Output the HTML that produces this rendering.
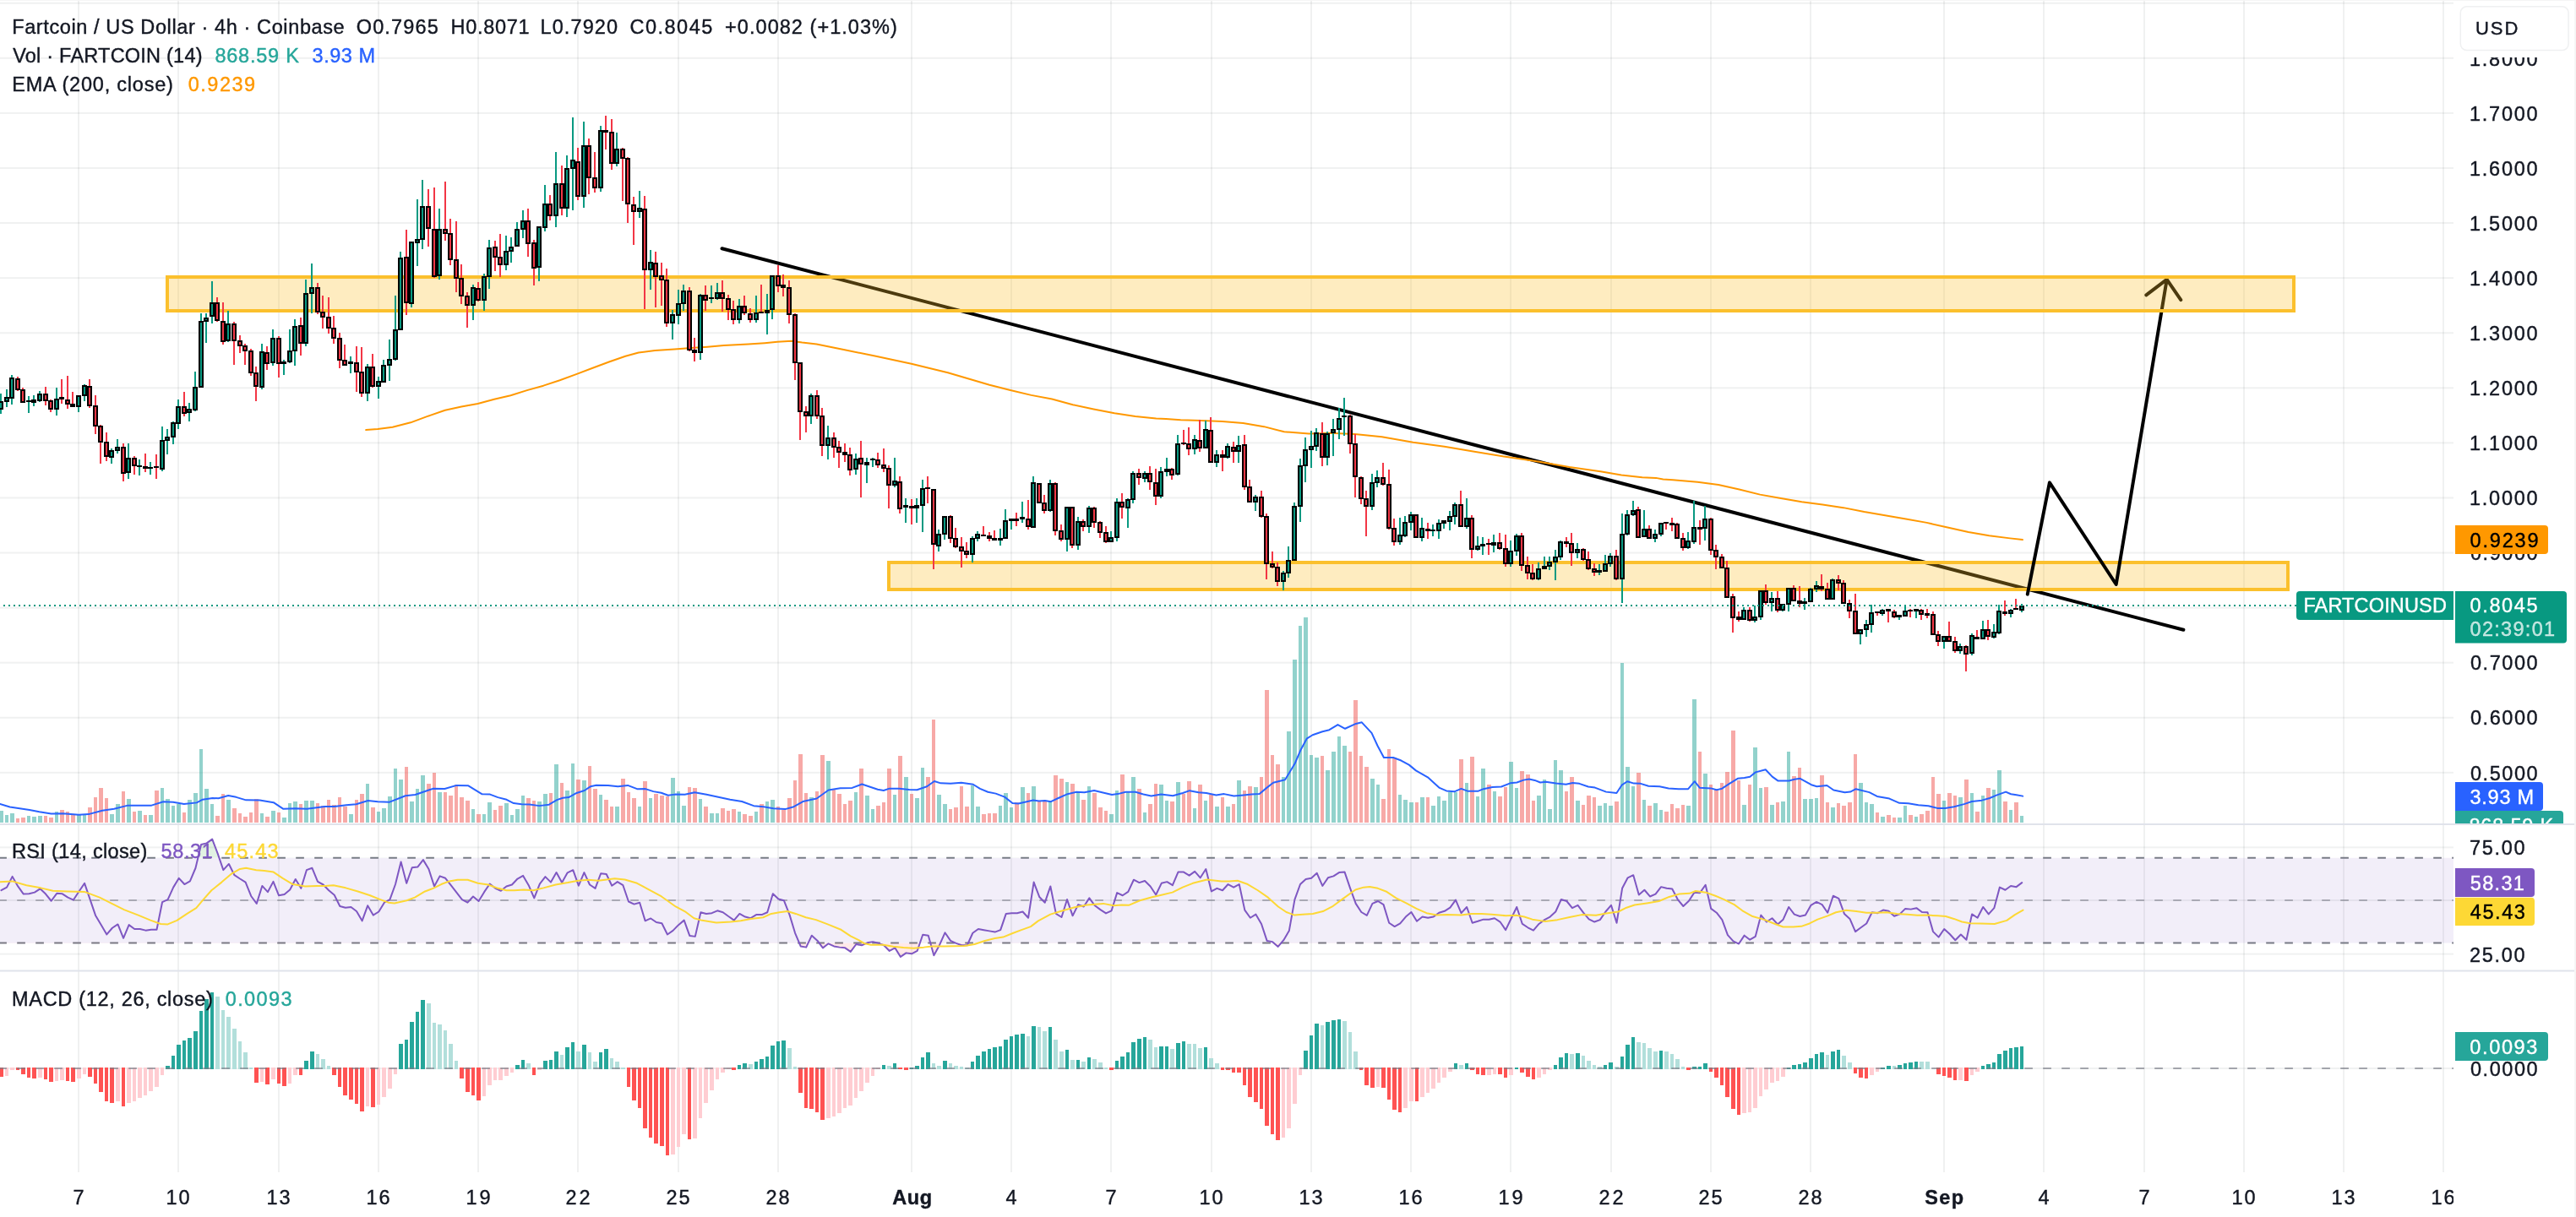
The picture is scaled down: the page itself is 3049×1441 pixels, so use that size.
<!DOCTYPE html><html><head><meta charset="utf-8"><title>FARTCOINUSD chart</title><style>html,body{margin:0;padding:0;background:#fff}body{width:3049px;height:1441px;overflow:hidden}svg{display:block;will-change:transform}</style></head><body><svg width="3049" height="1441" viewBox="0 0 3049 1441" font-family="'Liberation Sans', sans-serif">
<rect width="3049" height="1441" fill="#fff"/>
<defs><clipPath id="cm"><rect x="0" y="0" width="2904" height="975"/></clipPath><clipPath id="cr"><rect x="0" y="977" width="2904" height="171.5"/></clipPath><clipPath id="cd"><rect x="0" y="1150.5" width="2904" height="237.5"/></clipPath><clipPath id="ct"><rect x="0" y="1388" width="2904" height="53"/></clipPath><clipPath id="cv"><rect x="2904" y="0" width="145" height="975"/></clipPath></defs>
<g fill="rgba(30,45,50,0.065)">
<rect x="92" y="0" width="2" height="1388"/>
<rect x="210" y="0" width="2" height="1388"/>
<rect x="329" y="0" width="2" height="1388"/>
<rect x="447" y="0" width="2" height="1388"/>
<rect x="565" y="0" width="2" height="1388"/>
<rect x="683" y="0" width="2" height="1388"/>
<rect x="802" y="0" width="2" height="1388"/>
<rect x="920" y="0" width="2" height="1388"/>
<rect x="1078" y="0" width="2" height="1388"/>
<rect x="1196" y="0" width="2" height="1388"/>
<rect x="1314" y="0" width="2" height="1388"/>
<rect x="1433" y="0" width="2" height="1388"/>
<rect x="1551" y="0" width="2" height="1388"/>
<rect x="1669" y="0" width="2" height="1388"/>
<rect x="1787" y="0" width="2" height="1388"/>
<rect x="1906" y="0" width="2" height="1388"/>
<rect x="2024" y="0" width="2" height="1388"/>
<rect x="2142" y="0" width="2" height="1388"/>
<rect x="2300" y="0" width="2" height="1388"/>
<rect x="2418" y="0" width="2" height="1388"/>
<rect x="2537" y="0" width="2" height="1388"/>
<rect x="2655" y="0" width="2" height="1388"/>
<rect x="2773" y="0" width="2" height="1388"/>
<rect x="2891" y="0" width="2" height="1388"/>
<rect x="0" y="913.86" width="2904" height="2"/>
<rect x="0" y="848.78" width="2904" height="2"/>
<rect x="0" y="783.7" width="2904" height="2"/>
<rect x="0" y="718.62" width="2904" height="2"/>
<rect x="0" y="653.54" width="2904" height="2"/>
<rect x="0" y="588.46" width="2904" height="2"/>
<rect x="0" y="523.38" width="2904" height="2"/>
<rect x="0" y="458.3" width="2904" height="2"/>
<rect x="0" y="393.22" width="2904" height="2"/>
<rect x="0" y="328.14" width="2904" height="2"/>
<rect x="0" y="263.06" width="2904" height="2"/>
<rect x="0" y="197.98" width="2904" height="2"/>
<rect x="0" y="132.9" width="2904" height="2"/>
<rect x="0" y="67.82" width="2904" height="2"/>
<rect x="0" y="2.74" width="2904" height="2"/>
<rect x="0" y="1002.3" width="2904" height="2"/>
<rect x="0" y="1065" width="2904" height="2"/>
<rect x="0" y="1128.6" width="2904" height="2"/>
<rect x="0" y="1264" width="2904" height="2"/>
</g>
<g clip-path="url(#cm)">
<path d="M-1 974V960H4V974zM6 974V965H10V974zM12 974V963H17V974zM32 974V966H36V974zM38 974V967H43V974zM45 974V966H50V974zM65 974V961H69V974zM91 974V964H96V974zM98 974V964H102V974zM130 974V964H135V974zM137 974V952H142V974zM150 974V946H155V974zM163 974V960H168V974zM176 974V965H181V974zM190 974V933H194V974zM196 974V946H201V974zM203 974V954H207V974zM209 974V952H214V974zM222 974V947H227V974zM229 974V939H234V974zM236 974V887H240V974zM242 974V934H247V974zM249 974V952H253V974zM268 974V947H273V974zM308 974V963H312V974zM321 974V960H326V974zM334 974V968H339V974zM341 974V951H345V974zM347 974V949H352V974zM360 974V948H365V974zM367 974V948H372V974zM413 974V964H418V974zM433 974V928H437V974zM446 974V961H450V974zM452 974V957H457V974zM459 974V943H464V974zM466 974V910H470V974zM472 974V923H477V974zM485 974V949H490V974zM492 974V934H496V974zM498 974V918H503V974zM518 974V938H523V974zM558 974V958H562V974zM571 974V964H575V974zM577 974V950H582V974zM597 974V951H602V974zM604 974V965H608V974zM610 974V958H615V974zM617 974V942H621V974zM636 974V949H641V974zM643 974V940H648V974zM656 974V905H661V974zM669 974V936H674V974zM676 974V904H680V974zM689 974V924H694V974zM709 974V941H713V974zM728 974V955H733V974zM755 974V955H759V974zM768 974V945H772V974zM794 974V921H799V974zM801 974V937H805V974zM807 974V954H812V974zM827 974V946H831V974zM840 974V963H845V974zM847 974V963H851V974zM873 974V961H877V974zM893 974V961H897V974zM906 974V949H910V974zM912 974V947H917V974zM958 974V944H963V974zM978 974V901H983V974zM1011 974V938H1015V974zM1024 974V942H1029V974zM1031 974V958H1035V974zM1057 974V941H1061V974zM1070 974V920H1075V974zM1083 974V945H1088V974zM1090 974V909H1094V974zM1109 974V941H1114V974zM1116 974V952H1121V974zM1149 974V930H1153V974zM1155 974V955H1160V974zM1182 974V954H1186V974zM1188 974V939H1193V974zM1195 974V956H1199V974zM1208 974V932H1213V974zM1221 974V931H1226V974zM1241 974V949H1245V974zM1261 974V926H1265V974zM1274 974V938H1278V974zM1287 974V931H1291V974zM1313 974V964H1318V974zM1320 974V936H1324V974zM1333 974V938H1337V974zM1339 974V920H1344V974zM1353 974V962H1357V974zM1372 974V929H1377V974zM1379 974V948H1383V974zM1392 974V926H1397V974zM1412 974V957H1416V974zM1425 974V948H1429V974zM1438 974V955H1443V974zM1451 974V955H1456V974zM1464 974V924H1469V974zM1484 974V932H1489V974zM1517 974V920H1521V974zM1523 974V866H1528V974zM1530 974V781H1535V974zM1537 974V741H1541V974zM1543 974V731H1548V974zM1550 974V894H1554V974zM1556 974V897H1561V974zM1569 974V912H1574V974zM1576 974V890H1581V974zM1583 974V872H1587V974zM1589 974V883H1594V974zM1622 974V922H1627V974zM1629 974V929H1633V974zM1655 974V941H1659V974zM1661 974V947H1666V974zM1668 974V950H1673V974zM1681 974V944H1686V974zM1694 974V954H1699V974zM1701 974V943H1705V974zM1707 974V948H1712V974zM1714 974V938H1719V974zM1721 974V938H1725V974zM1734 974V927H1738V974zM1747 974V943H1751V974zM1753 974V910H1758V974zM1767 974V937H1771V974zM1786 974V902H1791V974zM1793 974V933H1797V974zM1819 974V942H1824V974zM1826 974V923H1830V974zM1832 974V958H1837V974zM1839 974V900H1843V974zM1845 974V912H1850V974zM1865 974V948H1870V974zM1891 974V954H1896V974zM1898 974V951H1902V974zM1904 974V954H1909V974zM1918 974V785H1922V974zM1924 974V908H1929V974zM1931 974V931H1935V974zM1944 974V947H1948V974zM1957 974V951H1962V974zM1964 974V959H1968V974zM1996 974V954H2001V974zM2003 974V828H2008V974zM2016 974V916H2021V974zM2062 974V953H2067V974zM2075 974V885H2080V974zM2082 974V933H2086V974zM2095 974V953H2100V974zM2108 974V949H2113V974zM2115 974V890H2119V974zM2134 974V946H2139V974zM2141 974V946H2146V974zM2148 974V945H2152V974zM2167 974V956H2172V974zM2200 974V927H2205V974zM2207 974V950H2211V974zM2213 974V952H2218V974zM2226 974V967H2231V974zM2246 974V968H2251V974zM2253 974V954H2257V974zM2266 974V967H2270V974zM2299 974V948H2303V974zM2318 974V944H2323V974zM2332 974V939H2336V974zM2345 974V942H2349V974zM2358 974V935H2362V974zM2364 974V912H2369V974zM2378 974V959H2382V974zM2391 974V966H2395V974z" fill="rgba(38,166,154,0.5)"/>
<path d="M19 974V969H23V974zM25 974V968H30V974zM52 974V966H56V974zM58 974V968H63V974zM71 974V959H76V974zM78 974V961H82V974zM84 974V964H89V974zM104 974V956H109V974zM111 974V944H115V974zM117 974V933H122V974zM124 974V945H128V974zM144 974V937H148V974zM157 974V961H161V974zM170 974V965H174V974zM183 974V936H188V974zM216 974V962H220V974zM255 974V966H260V974zM262 974V940H266V974zM275 974V957H280V974zM282 974V963H286V974zM288 974V967H293V974zM295 974V962H299V974zM301 974V946H306V974zM314 974V967H319V974zM328 974V962H332V974zM354 974V952H358V974zM374 974V951H378V974zM380 974V954H385V974zM387 974V947H391V974zM393 974V953H398V974zM400 974V944H404V974zM406 974V955H411V974zM420 974V947H424V974zM426 974V940H431V974zM439 974V956H444V974zM479 974V908H483V974zM505 974V928H510V974zM512 974V915H516V974zM525 974V938H529V974zM531 974V942H536V974zM538 974V929H542V974zM544 974V944H549V974zM551 974V948H556V974zM564 974V964H569V974zM584 974V959H588V974zM590 974V954H595V974zM623 974V945H628V974zM630 974V948H634V974zM650 974V939H654V974zM663 974V927H667V974zM682 974V923H687V974zM696 974V907H700V974zM702 974V934H707V974zM715 974V947H720V974zM722 974V955H726V974zM735 974V922H740V974zM742 974V938H746V974zM748 974V945H753V974zM761 974V925H766V974zM774 974V940H779V974zM781 974V942H786V974zM788 974V943H792V974zM814 974V932H818V974zM820 974V933H825V974zM833 974V955H838V974zM853 974V957H858V974zM860 974V960H864V974zM866 974V958H871V974zM879 974V964H884V974zM886 974V966H891V974zM899 974V952H904V974zM919 974V955H923V974zM925 974V959H930V974zM932 974V945H937V974zM939 974V924H943V974zM945 974V893H950V974zM952 974V939H956V974zM965 974V937H969V974zM971 974V894H976V974zM985 974V935H989V974zM991 974V940H996V974zM998 974V952H1002V974zM1004 974V948H1009V974zM1017 974V910H1022V974zM1037 974V954H1042V974zM1044 974V950H1048V974zM1050 974V910H1055V974zM1063 974V895H1068V974zM1077 974V940H1081V974zM1096 974V920H1101V974zM1103 974V852H1107V974zM1123 974V958H1127V974zM1129 974V956H1134V974zM1136 974V931H1140V974zM1142 974V955H1147V974zM1162 974V964H1167V974zM1169 974V963H1173V974zM1175 974V963H1180V974zM1201 974V950H1206V974zM1215 974V939H1219V974zM1228 974V949H1232V974zM1234 974V949H1239V974zM1247 974V918H1252V974zM1254 974V922H1259V974zM1267 974V928H1272V974zM1280 974V947H1285V974zM1293 974V939H1298V974zM1300 974V956H1305V974zM1307 974V960H1311V974zM1326 974V917H1331V974zM1346 974V934H1351V974zM1359 974V952H1364V974zM1366 974V928H1370V974zM1385 974V949H1390V974zM1399 974V940H1403V974zM1405 974V925H1410V974zM1418 974V929H1423V974zM1431 974V941H1436V974zM1445 974V944H1449V974zM1458 974V952H1462V974zM1471 974V936H1475V974zM1477 974V931H1482V974zM1491 974V920H1495V974zM1497 974V817H1502V974zM1504 974V894H1508V974zM1510 974V905H1515V974zM1563 974V895H1567V974zM1596 974V890H1600V974zM1602 974V829H1607V974zM1609 974V895H1613V974zM1615 974V908H1620V974zM1635 974V946H1640V974zM1642 974V887H1646V974zM1648 974V897H1653V974zM1675 974V950H1679V974zM1688 974V944H1692V974zM1727 974V899H1732V974zM1740 974V896H1745V974zM1760 974V929H1765V974zM1773 974V943H1778V974zM1780 974V932H1784V974zM1799 974V913H1804V974zM1806 974V917H1811V974zM1813 974V948H1817V974zM1852 974V937H1856V974zM1858 974V920H1863V974zM1872 974V953H1876V974zM1878 974V942H1883V974zM1885 974V944H1889V974zM1911 974V949H1916V974zM1937 974V915H1942V974zM1950 974V954H1955V974zM1970 974V961H1975V974zM1977 974V952H1981V974zM1983 974V957H1988V974zM1990 974V953H1994V974zM2010 974V890H2014V974zM2023 974V929H2027V974zM2029 974V935H2034V974zM2036 974V927H2040V974zM2042 974V914H2047V974zM2049 974V865H2054V974zM2056 974V924H2060V974zM2069 974V929H2073V974zM2088 974V932H2093V974zM2102 974V950H2106V974zM2121 974V919H2126V974zM2128 974V909H2132V974zM2154 974V918H2159V974zM2161 974V950H2165V974zM2174 974V951H2178V974zM2180 974V954H2185V974zM2187 974V950H2192V974zM2194 974V893H2198V974zM2220 974V962H2224V974zM2233 974V965H2238V974zM2240 974V968H2244V974zM2259 974V965H2264V974zM2272 974V964H2277V974zM2279 974V960H2284V974zM2286 974V920H2290V974zM2292 974V940H2297V974zM2305 974V939H2310V974zM2312 974V942H2316V974zM2325 974V923H2330V974zM2338 974V961H2343V974zM2351 974V933H2356V974zM2371 974V949H2376V974zM2384 974V950H2389V974z" fill="rgba(239,83,80,0.5)"/>
<path d="M0 952 L11.65 955.5 L23.29 957.36 L34.94 958.99 L46.58 961.32 L60.56 963.42 L74.53 963.18 L93.17 964.81 L104.81 964.11 L121.12 959.69 L135.09 957.83 L151.4 953.63 L163.04 953.63 L179.35 953.63 L193.32 949.21 L204.97 949.67 L217.78 952 L232.92 950.37 L239.91 946.65 L251.55 945.02 L258.54 945.25 L270.19 941.99 L279.5 943.85 L291.15 947.34 L307.45 947.58 L323.76 950.14 L335.4 957.83 L349.38 957.13 L363.35 957.83 L384.32 955.03 L395.96 955.03 L409.94 953.17 L421.58 952.24 L435.56 948.04 L447.2 949.21 L461.18 949.67 L479.81 942.22 L491.46 941.06 L512.42 933.84 L526.4 934.07 L540.37 929.88 L554.35 930.34 L570.65 940.36 L580 940.62 L589.32 944.11 L598.63 946.44 L607.95 951.1 L617.27 952.27 L626.58 952.5 L638.23 954.13 L649.88 952.73 L659.19 947.14 L666.18 944.81 L673.17 944.11 L682.48 938.99 L691.8 935.96 L698.79 931.3 L705.78 929.67 L719.75 929.91 L731.4 931.3 L743.04 929.91 L754.69 934.33 L764.01 934.1 L773.32 937.13 L782.64 938.76 L790.79 941.79 L798.94 940.62 L810.59 940.85 L822.24 938.29 L836.21 940.85 L850.19 943.65 L864.16 946.68 L878.14 949.01 L892.11 954.13 L903.76 955.3 L915.4 957.16 L929.38 958.09 L938.7 955.53 L950.34 949.01 L966.65 945.51 L980.62 935.5 L994.6 933.17 L1008.57 932.93 L1020.22 928.51 L1038.85 934.8 L1045.84 935.96 L1052.83 933.63 L1064.47 933.87 L1076.12 935.03 L1085.43 935.26 L1097.08 931.3 L1105.93 925.02 L1113.39 927.34 L1125.03 927.81 L1137.84 926.65 L1151.82 928.74 L1160 933.82 L1169.32 937.78 L1178.63 939.64 L1189.11 943.6 L1198.43 951.06 L1205.42 951.52 L1222.89 947.56 L1229.88 948.49 L1236.86 948.03 L1243.85 949.19 L1253.17 944.77 L1262.48 940.57 L1274.13 937.78 L1283.45 938.25 L1295.09 935.92 L1304.41 938.25 L1316.06 941.04 L1323.04 940.11 L1332.36 937.78 L1344.01 937.78 L1353.32 940.57 L1362.64 942.44 L1374.29 940.57 L1388.26 942.2 L1399.91 938.94 L1408.06 936.15 L1418.54 938.25 L1427.86 938.94 L1439.5 941.51 L1448.82 940.11 L1460.47 942.44 L1472.11 941.51 L1481.43 940.57 L1490.75 940.11 L1498.9 933.12 L1507.05 926.83 L1514.04 924.97 L1521.02 923.34 L1532.67 904.01 L1539.66 887.7 L1546.65 874.66 L1553.63 870.23 L1565.28 866.27 L1573.43 864.18 L1583.45 858.12 L1592.07 862.78 L1604.88 856.96 L1611.86 855.33 L1623.51 867.9 L1630.5 883.04 L1637.95 897.02 L1649.13 897.02 L1658.45 900.51 L1667.76 905.64 L1675.92 912.39 L1689.89 920.31 L1703.87 932.89 L1712.02 936.38 L1721.34 937.31 L1729.49 933.82 L1737.64 936.85 L1749.24 936.83 L1755.84 934.19 L1766.4 932.08 L1776.96 931.55 L1787.52 927.33 L1795.43 926.54 L1803.35 923.63 L1809.95 922.58 L1816.55 923.9 L1823.15 926.54 L1829.75 925.75 L1841.63 927.59 L1853.51 928.65 L1861.43 927.07 L1869.35 927.86 L1879.91 931.55 L1887.83 932.61 L1901.02 937.62 L1913.43 938.94 L1919.5 929.7 L1926.1 925.22 L1934.02 927.59 L1941.94 927.86 L1951.18 930.76 L1964.38 931.29 L1974.94 933.4 L1986.82 934.19 L1998.17 934.19 L2005.82 925.22 L2011.89 932.87 L2025.09 933.4 L2031.69 935.25 L2038.29 933.66 L2046.21 928.39 L2056.77 921.79 L2064.69 920.99 L2071.29 919.67 L2077.89 914.39 L2089.77 911.23 L2097.69 919.67 L2104.29 924.43 L2117.48 924.43 L2124.08 922.84 L2130.68 921.79 L2143.88 929.18 L2150.48 931.29 L2162.36 929.97 L2170.28 935.51 L2183.48 938.15 L2190.08 937.62 L2196.68 934.19 L2212.52 938.15 L2221.75 942.9 L2236.27 945.54 L2248.15 950.82 L2258.71 951.35 L2270.59 953.2 L2282.47 954.25 L2293.03 956.89 L2302.27 956.89 L2312.83 955.31 L2324.7 952.14 L2333.94 948.98 L2345.82 947.66 L2355.06 945.02 L2362.98 941.58 L2374.07 937.62 L2380.14 940.26 L2386.74 941.32 L2394.13 942.64" fill="none" stroke="#2962ff" stroke-width="2" stroke-linejoin="round" stroke-linecap="round" />
<path d="M854.5 294.3L2584.4 745.8" stroke="#000" stroke-width="4" stroke-linecap="round" fill="none"/>
<rect x="1052" y="666" width="1656" height="32" fill="rgba(251,192,45,0.3)" stroke="#fbc02d" stroke-width="4"/>
<path d="M2399.8 703.6L2425.9 571.4L2504.7 692L2564.7 330.8M2540.3 349.3L2564.7 330.8L2581.3 355.2" stroke="#000" stroke-width="4" stroke-linecap="round" stroke-linejoin="round" fill="none"/>
<rect x="198" y="328" width="2517" height="40" fill="rgba(251,192,45,0.3)" stroke="#fbc02d" stroke-width="4"/>
<path d="M433.2 509.08 L447.17 508.11 L464.64 505.78 L485.99 500.34 L505.4 493.16 L526.75 485.78 L546.16 481.51 L565.57 478.02 L584.98 472.78 L604.39 468.32 L623.8 462.1 L643.21 456.67 L662.62 450.26 L682.03 443.08 L701.44 435.71 L720.85 428.52 L740.26 421.73 L755.79 417.46 L775.2 414.94 L798.49 413.39 L817.9 412.03 L837.31 410.67 L856.72 409.11 L885.84 407.56 L905.25 406.2 L920 404.84 L936.98 403.79 L949.31 405.52 L966.56 407.49 L998.61 413.9 L1035.59 421.54 L1078.74 430.66 L1121.88 441.26 L1171.19 455.81 L1195.84 461.97 L1220.49 467.89 L1245.15 472.57 L1269.8 479.23 L1294.45 484.41 L1319.11 489.34 L1343.76 493.04 L1368.41 495.5 L1380 495.99 L1397.47 497.26 L1422.13 498 L1446.78 498.98 L1471.43 500.96 L1496.09 505.15 L1520 511.31 L1549.31 513.47 L1573.96 512.73 L1603.54 513.96 L1635.59 517.16 L1672.57 523.82 L1709.55 528.75 L1746.53 534.92 L1783.51 541.08 L1820.49 546.5 L1857.47 552.91 L1894.45 558.34 L1919.11 562.53 L1943.76 565.24 L1960 565.89 L1968.41 567.46 L1980 568.2 L2009.31 570.82 L2033.96 574.02 L2058.61 579.45 L2083.27 585.61 L2107.92 590.05 L2132.57 594.24 L2157.23 597.44 L2181.88 601.14 L2206.53 606.07 L2231.19 610.26 L2255.84 614.45 L2280.49 618.89 L2305.15 624.56 L2329.8 629.98 L2354.45 634.18 L2379.11 637.38 L2393.9 639.11" fill="none" stroke="#ff9800" stroke-width="2" stroke-linejoin="round" stroke-linecap="round" />
<path d="M0 466V490h2V466zM7 461V482h2V461zM13 444V479h2V444zM33 469V489h2V469zM39 468V481h2V468zM46 463V476h2V463zM66 459V492h2V459zM92 468V488h2V468zM99 455V475h2V455zM131 531V549h2V531zM138 520V537h2V520zM151 525V567h2V525zM164 544V563h2V544zM177 547V562h2V547zM191 505V558h2V505zM197 508V538h2V508zM204 499V526h2V499zM210 473V508h2V473zM223 477V499h2V477zM230 440V487h2V440zM237 371V459h2V371zM243 371V406h2V371zM250 333V383h2V333zM269 368V405h2V368zM309 407V461h2V407zM322 390V433h2V390zM335 426V444h2V426zM342 390V430h2V390zM348 378V433h2V378zM361 331V410h2V331zM368 312V371h2V312zM414 422V442h2V422zM434 431V475h2V431zM447 446V472h2V446zM453 426V453h2V426zM460 402V451h2V402zM467 350V427h2V350zM473 298V391h2V298zM486 286V364h2V286zM493 236V315h2V236zM499 213V295h2V213zM519 247V331h2V247zM559 337V379h2V337zM572 324V368h2V324zM578 284V342h2V284zM598 279V320h2V279zM604 281V311h2V281zM611 263V292h2V263zM618 249V282h2V249zM637 268V333h2V268zM644 219V274h2V219zM657 180V269h2V180zM670 184V257h2V184zM677 139V249h2V139zM690 144V246h2V144zM710 149V227h2V149zM729 157V197h2V157zM756 226V258h2V226zM769 296V343h2V296zM795 367V402h2V367zM802 343V384h2V343zM808 337V368h2V337zM828 348V426h2V348zM841 338V359h2V338zM848 335V355h2V335zM874 354V383h2V354zM894 350V382h2V350zM907 348V396h2V348zM913 326V378h2V326zM959 466V502h2V466zM979 504V544h2V504zM1012 537V562h2V537zM1025 542V572h2V542zM1032 542V553h2V542zM1058 542V577h2V542zM1071 590V619h2V590zM1084 590V619h2V590zM1091 568V630h2V568zM1110 627V653h2V627zM1117 611V639h2V611zM1150 635V666h2V635zM1156 629V641h2V629zM1183 626V646h2V626zM1189 603V638h2V603zM1196 614V627h2V614zM1209 594V619h2V594zM1222 564V625h2V564zM1242 568V606h2V568zM1262 600V653h2V600zM1275 612V651h2V612zM1288 599V631h2V599zM1314 629V642h2V629zM1321 590V641h2V590zM1334 590V625h2V590zM1340 558V596h2V558zM1354 558V571h2V558zM1373 553V590h2V553zM1380 542V564h2V542zM1393 515V563h2V515zM1413 515V538h2V515zM1426 498V531h2V498zM1439 533V553h2V533zM1452 525V543h2V525zM1465 516V548h2V516zM1485 586V605h2V586zM1518 676V699h2V676zM1524 647V684h2V647zM1531 595V664h2V595zM1538 543V618h2V543zM1544 518V571h2V518zM1551 510V554h2V510zM1557 507V534h2V507zM1570 511V551h2V511zM1577 496V540h2V496zM1584 483V520h2V483zM1590 471V516h2V471zM1623 561V604h2V561zM1629 557V577h2V557zM1656 613V645h2V613zM1662 611V636h2V611zM1669 606V628h2V606zM1682 613V641h2V613zM1695 621V635h2V621zM1702 615V638h2V615zM1708 616V626h2V616zM1715 605V628h2V605zM1721 595V621h2V595zM1735 590V626h2V590zM1748 635V652h2V635zM1754 636V657h2V636zM1767 633V654h2V633zM1787 640V671h2V640zM1794 632V658h2V632zM1820 666V687h2V666zM1827 659V674h2V659zM1833 659V675h2V659zM1840 651V687h2V651zM1846 640V663h2V640zM1866 643V661h2V643zM1892 668V681h2V668zM1899 657V677h2V657zM1905 655V671h2V655zM1919 608V714h2V608zM1925 604V634h2V604zM1932 593V611h2V593zM1945 604V636h2V604zM1958 627V642h2V627zM1965 619V635h2V619zM1997 630V650h2V630zM2004 593V644h2V593zM2017 599V640h2V599zM2063 719V734h2V719zM2076 717V737h2V717zM2083 699V734h2V699zM2096 701V724h2V701zM2109 715V724h2V715zM2116 696V724h2V696zM2135 708V722h2V708zM2142 696V713h2V696zM2149 688V701h2V688zM2168 685V710h2V685zM2201 745V763h2V745zM2208 734V754h2V734zM2214 716V749h2V716zM2227 721V729h2V721zM2247 728V734h2V728zM2254 716V730h2V716zM2267 721V732h2V721zM2300 753V768h2V753zM2319 762V774h2V762zM2333 750V776h2V750zM2346 735V757h2V735zM2359 739V756h2V739zM2365 716V751h2V716zM2379 721V731h2V721zM2392 715V725h2V715z" fill="#089981"/>
<path d="M20 446V463h2V446zM26 459V477h2V459zM53 458V480h2V458zM59 473V488h2V473zM72 449V478h2V449zM79 445V484h2V445zM85 464V482h2V464zM105 449V483h2V449zM112 468V514h2V468zM118 503V549h2V503zM125 512V546h2V512zM145 525V570h2V525zM158 540V562h2V540zM171 537V559h2V537zM184 538V567h2V538zM217 464V493h2V464zM256 352V381h2V352zM263 358V408h2V358zM276 381V432h2V381zM283 397V418h2V397zM289 407V432h2V407zM296 413V445h2V413zM302 434V475h2V434zM315 410V438h2V410zM329 398V447h2V398zM355 376V421h2V376zM375 335V372h2V335zM381 350V389h2V350zM388 352V395h2V352zM394 374V407h2V374zM401 394V436h2V394zM407 408V433h2V408zM421 410V464h2V410zM427 411V470h2V411zM440 419V459h2V419zM480 272V373h2V272zM506 224V292h2V224zM513 222V329h2V222zM526 215V285h2V215zM532 259V314h2V259zM539 262V346h2V262zM545 313V360h2V313zM552 346V388h2V346zM565 334V357h2V334zM585 285V321h2V285zM591 277V328h2V277zM624 247V304h2V247zM631 284V338h2V284zM650 231V261h2V231zM664 196V255h2V196zM683 175V237h2V175zM696 164V230h2V164zM703 180V228h2V180zM716 137V177h2V137zM723 141V201h2V141zM736 175V238h2V175zM742 186V264h2V186zM749 233V290h2V233zM762 232V366h2V232zM775 298V364h2V298zM782 311V362h2V311zM788 318V387h2V318zM815 340V416h2V340zM821 400V428h2V400zM834 338V368h2V338zM854 332V369h2V332zM861 349V379h2V349zM867 356V384h2V356zM880 350V373h2V350zM887 365V382h2V365zM900 337V371h2V337zM920 314V346h2V314zM926 325V351h2V325zM933 332V383h2V332zM940 371V450h2V371zM946 429V521h2V429zM953 481V512h2V481zM966 462V496h2V462zM972 483V540h2V483zM986 512V542h2V512zM992 522V554h2V522zM999 525V547h2V525zM1005 530V563h2V530zM1018 522V589h2V522zM1038 536V554h2V536zM1045 531V559h2V531zM1051 551V602h2V551zM1064 564V608h2V564zM1078 591V621h2V591zM1097 564V596h2V564zM1104 579V674h2V579zM1124 610V643h2V610zM1130 625V649h2V625zM1137 636V672h2V636zM1143 642V661h2V642zM1163 623V635h2V623zM1170 630V641h2V630zM1176 628V640h2V628zM1202 607V623h2V607zM1216 592V627h2V592zM1229 572V596h2V572zM1235 586V608h2V586zM1248 571V634h2V571zM1255 621V641h2V621zM1268 600V649h2V600zM1281 615V629h2V615zM1294 600V625h2V600zM1301 617V637h2V617zM1308 623V643h2V623zM1327 584V614h2V584zM1347 555V574h2V555zM1360 552V580h2V552zM1367 555V598h2V555zM1386 554V568h2V554zM1400 509V527h2V509zM1406 506V539h2V506zM1419 497V535h2V497zM1432 494V548h2V494zM1446 533V558h2V533zM1459 523V548h2V523zM1472 515V580h2V515zM1478 568V595h2V568zM1492 581V613h2V581zM1498 608V686h2V608zM1505 653V673h2V653zM1511 666V694h2V666zM1564 500V552h2V500zM1597 491V537h2V491zM1603 514V589h2V514zM1610 564V597h2V564zM1616 581V635h2V581zM1636 548V575h2V548zM1643 556V627h2V556zM1649 614V646h2V614zM1675 609V637h2V609zM1689 619V638h2V619zM1728 581V624h2V581zM1741 610V661h2V610zM1761 638V657h2V638zM1774 631V651h2V631zM1781 633V671h2V633zM1800 631V676h2V631zM1807 659V686h2V659zM1813 668V687h2V668zM1853 636V648h2V636zM1859 631V670h2V631zM1873 649V664h2V649zM1879 653V675h2V653zM1886 667V682h2V667zM1912 651V687h2V651zM1938 600V637h2V600zM1951 622V638h2V622zM1971 618V627h2V618zM1978 613V629h2V613zM1984 619V638h2V619zM1991 631V652h2V631zM2011 616V645h2V616zM2024 613V657h2V613zM2030 645V674h2V645zM2037 656V673h2V656zM2043 664V708h2V664zM2050 703V749h2V703zM2057 724V736h2V724zM2070 719V736h2V719zM2089 692V716h2V692zM2103 700V725h2V700zM2122 693V712h2V693zM2129 694V719h2V694zM2155 680V700h2V680zM2162 690V710h2V690zM2175 681V699h2V681zM2181 687V715h2V687zM2188 710V732h2V710zM2195 703V751h2V703zM2221 724V729h2V724zM2234 721V737h2V721zM2241 722V732h2V722zM2260 721V731h2V721zM2273 721V734h2V721zM2280 721V732h2V721zM2287 724V752h2V724zM2293 747V765h2V747zM2306 736V760h2V736zM2313 754V773h2V754zM2326 764V795h2V764zM2339 746V757h2V746zM2352 734V758h2V734zM2372 711V729h2V711zM2385 709V722h2V709z" fill="#f23645"/>
<path d="M-2 475V485h6V475zM5 470V476h6V470zM11 447V472h6V447zM18 448V462h6V448zM24 461V477h6V461zM31 474V476h6V474zM37 473V477h6V473zM44 466V475h6V466zM51 466V475h6V466zM57 474V485h6V474zM64 472V485h6V472zM70 470V473h6V470zM77 473V479h6V473zM83 478V482h6V478zM90 468V482h6V468zM97 456V469h6V456zM103 457V481h6V457zM110 480V505h6V480zM116 504V524h6V504zM123 523V541h6V523zM129 533V542h6V533zM136 529V534h6V529zM143 529V561h6V529zM149 542V560h6V542zM156 542V552h6V542zM162 551V553h6V551zM169 552V555h6V552zM175 553V555h6V553zM182 552V554h6V552zM189 521V556h6V521zM195 517V522h6V517zM202 500V518h6V500zM208 481V502h6V481zM215 481V490h6V481zM221 484V489h6V484zM228 458V486h6V458zM235 380V459h6V380zM241 376V381h6V376zM248 358V375h6V358zM254 358V380h6V358zM261 380V405h6V380zM267 383V404h6V383zM274 383V404h6V383zM281 403V410h6V403zM287 409V416h6V409zM294 415V442h6V415zM300 441V458h6V441zM307 416V459h6V416zM313 417V431h6V417zM320 400V430h6V400zM327 400V431h6V400zM333 428V431h6V428zM340 415V429h6V415zM346 386V416h6V386zM353 385V407h6V385zM359 347V407h6V347zM366 340V348h6V340zM373 340V370h6V340zM379 369V376h6V369zM386 375V389h6V375zM392 388V401h6V388zM399 400V427h6V400zM405 426V433h6V426zM412 428V431h6V428zM419 429V441h6V429zM425 440V466h6V440zM432 434V466h6V434zM438 434V458h6V434zM445 451V458h6V451zM451 432V453h6V432zM458 425V433h6V425zM465 390V426h6V390zM471 305V391h6V305zM478 304V359h6V304zM484 286V360h6V286zM491 283V288h6V283zM497 244V284h6V244zM504 244V271h6V244zM511 271V328h6V271zM517 271V327h6V271zM524 271V277h6V271zM530 276V308h6V276zM537 307V330h6V307zM543 329V351h6V329zM550 350V362h6V350zM557 340V362h6V340zM563 341V356h6V341zM570 327V356h6V327zM576 293V328h6V293zM583 292V305h6V292zM589 304V314h6V304zM596 297V314h6V297zM602 292V298h6V292zM609 271V292h6V271zM616 261V272h6V261zM622 261V289h6V261zM629 287V318h6V287zM635 268V317h6V268zM642 241V270h6V241zM648 241V256h6V241zM655 217V256h6V217zM662 217V247h6V217zM668 199V247h6V199zM675 189V200h6V189zM681 191V233h6V191zM688 172V233h6V172zM694 172V211h6V172zM701 210V223h6V210zM708 154V223h6V154zM714 154V157h6V154zM721 156V194h6V156zM727 176V194h6V176zM734 176V188h6V176zM740 187V242h6V187zM747 242V251h6V242zM754 246V251h6V246zM760 247V320h6V247zM767 310V320h6V310zM773 311V328h6V311zM780 326V332h6V326zM786 331V383h6V331zM793 372V383h6V372zM800 359V374h6V359zM806 344V360h6V344zM813 344V415h6V344zM819 414V418h6V414zM826 349V418h6V349zM832 349V356h6V349zM839 352V354h6V352zM846 346V354h6V346zM852 346V354h6V346zM859 353V367h6V353zM865 366V379h6V366zM872 362V379h6V362zM878 362V371h6V362zM885 371V379h6V371zM892 370V379h6V370zM898 369V371h6V369zM905 367V371h6V367zM911 326V367h6V326zM918 326V339h6V326zM924 337V341h6V337zM931 340V373h6V340zM938 372V430h6V372zM944 429V488h6V429zM951 487V493h6V487zM957 468V493h6V468zM964 468V493h6V468zM970 492V528h6V492zM977 518V528h6V518zM984 518V530h6V518zM990 529V536h6V529zM997 535V539h6V535zM1003 538V557h6V538zM1010 543V556h6V543zM1016 542V550h6V542zM1023 547V551h6V547zM1030 543V545h6V543zM1036 544V551h6V544zM1043 550V555h6V550zM1049 554V575h6V554zM1056 569V575h6V569zM1062 570V603h6V570zM1069 598V601h6V598zM1076 599V602h6V599zM1082 598V602h6V598zM1089 578V599h6V578zM1095 577V579h6V577zM1102 579V645h6V579zM1108 632V647h6V632zM1115 611V633h6V611zM1122 611V638h6V611zM1128 637V648h6V637zM1135 647V653h6V647zM1141 652V657h6V652zM1148 637V657h6V637zM1154 632V638h6V632zM1161 633V635h6V633zM1168 634V638h6V634zM1174 637V640h6V637zM1181 637V640h6V637zM1187 616V638h6V616zM1194 614V617h6V614zM1200 614V617h6V614zM1207 612V615h6V612zM1214 614V624h6V614zM1220 571V625h6V571zM1227 572V596h6V572zM1233 595V605h6V595zM1240 572V605h6V572zM1246 572V629h6V572zM1253 628V639h6V628zM1260 600V639h6V600zM1266 600V646h6V600zM1273 617V646h6V617zM1279 617V624h6V617zM1286 601V624h6V601zM1292 601V619h6V601zM1299 618V631h6V618zM1306 630V642h6V630zM1312 636V642h6V636zM1319 594V637h6V594zM1325 594V601h6V594zM1332 591V602h6V591zM1338 560V592h6V560zM1345 560V566h6V560zM1352 560V567h6V560zM1358 560V571h6V560zM1365 571V588h6V571zM1371 558V588h6V558zM1378 555V559h6V555zM1384 555V563h6V555zM1391 525V562h6V525zM1398 524V526h6V524zM1404 525V532h6V525zM1411 520V532h6V520zM1417 521V531h6V521zM1424 508V531h6V508zM1430 509V548h6V509zM1437 538V548h6V538zM1444 538V542h6V538zM1450 528V542h6V528zM1457 529V535h6V529zM1463 527V535h6V527zM1470 526V577h6V526zM1476 576V595h6V576zM1483 588V595h6V588zM1490 588V612h6V588zM1496 611V668h6V611zM1503 667V672h6V667zM1509 671V689h6V671zM1516 678V689h6V678zM1522 663V679h6V663zM1529 599V664h6V599zM1536 551V600h6V551zM1542 532V552h6V532zM1549 528V533h6V528zM1555 512V529h6V512zM1562 513V542h6V513zM1568 513V542h6V513zM1575 508V513h6V508zM1582 495V509h6V495zM1588 492V494h6V492zM1595 492V526h6V492zM1601 525V565h6V525zM1608 565V591h6V565zM1614 590V600h6V590zM1621 571V600h6V571zM1627 565V572h6V565zM1634 565V574h6V565zM1641 573V626h6V573zM1647 625V642h6V625zM1654 633V642h6V633zM1660 618V635h6V618zM1667 609V619h6V609zM1673 609V637h6V609zM1680 625V637h6V625zM1687 626V629h6V626zM1693 627V629h6V627zM1700 619V629h6V619zM1706 616V620h6V616zM1713 611V618h6V611zM1719 597V612h6V597zM1726 597V624h6V597zM1733 613V624h6V613zM1739 613V651h6V613zM1746 646V651h6V646zM1752 644V647h6V644zM1759 643V645h6V643zM1765 642V646h6V642zM1772 642V650h6V642zM1779 649V668h6V649zM1785 652V668h6V652zM1792 634V653h6V634zM1798 634V670h6V634zM1805 669V679h6V669zM1811 678V686h6V678zM1818 673V686h6V673zM1825 670V674h6V670zM1831 665V671h6V665zM1838 659V666h6V659zM1844 641V660h6V641zM1851 641V644h6V641zM1857 643V655h6V643zM1864 650V655h6V650zM1871 650V663h6V650zM1877 662V674h6V662zM1884 673V678h6V673zM1890 675V678h6V675zM1897 667V677h6V667zM1903 658V668h6V658zM1910 658V686h6V658zM1917 632V686h6V632zM1923 609V633h6V609zM1930 604V610h6V604zM1936 603V637h6V603zM1943 626V636h6V626zM1949 626V638h6V626zM1956 632V638h6V632zM1963 619V633h6V619zM1969 618V620h6V618zM1976 619V622h6V619zM1982 620V638h6V620zM1989 637V649h6V637zM1995 640V649h6V640zM2002 624V642h6V624zM2009 624V627h6V624zM2015 614V626h6V614zM2022 614V652h6V614zM2028 651V660h6V651zM2035 659V673h6V659zM2041 672V708h6V672zM2048 706V732h6V706zM2055 730V734h6V730zM2061 722V734h6V722zM2068 722V735h6V722zM2074 730V735h6V730zM2081 699V731h6V699zM2087 699V714h6V699zM2094 708V714h6V708zM2101 708V723h6V708zM2107 715V723h6V715zM2114 696V716h6V696zM2120 696V712h6V696zM2127 711V715h6V711zM2133 712V715h6V712zM2140 697V713h6V697zM2147 693V698h6V693zM2153 694V698h6V694zM2160 697V710h6V697zM2166 686V710h6V686zM2173 686V691h6V686zM2179 690V715h6V690zM2186 714V724h6V714zM2193 723V751h6V723zM2199 745V751h6V745zM2206 739V746h6V739zM2212 725V740h6V725zM2219 724V726h6V724zM2225 722V727h6V722zM2232 721V724h6V721zM2239 724V731h6V724zM2245 728V731h6V728zM2252 723V730h6V723zM2258 722V724h6V722zM2265 721V724h6V721zM2271 722V728h6V722zM2278 726V729h6V726zM2285 727V752h6V727zM2291 751V760h6V751zM2298 753V760h6V753zM2304 753V760h6V753zM2311 759V771h6V759zM2317 765V771h6V765zM2324 765V775h6V765zM2331 752V774h6V752zM2337 754V757h6V754zM2344 745V757h6V745zM2350 745V754h6V745zM2357 748V755h6V748zM2363 723V750h6V723zM2370 724V727h6V724zM2377 722V727h6V722zM2383 720V722h6V720zM2390 717V723h6V717z" fill="#000"/>
<path d="M0 477V483h2V477zM7 472V474h2V472zM13 449V470h2V449zM46 468V473h2V468zM66 474V483h2V474zM92 470V480h2V470zM99 458V467h2V458zM131 535V540h2V535zM138 531V532h2V531zM151 544V558h2V544zM191 523V554h2V523zM197 519V520h2V519zM204 502V516h2V502zM210 483V500h2V483zM223 486V487h2V486zM230 460V484h2V460zM237 382V457h2V382zM243 378V379h2V378zM250 360V373h2V360zM269 385V402h2V385zM309 418V457h2V418zM322 402V428h2V402zM342 417V427h2V417zM348 388V414h2V388zM361 349V405h2V349zM368 342V346h2V342zM434 436V464h2V436zM447 453V456h2V453zM453 434V451h2V434zM460 427V431h2V427zM467 392V424h2V392zM473 307V389h2V307zM486 288V358h2V288zM493 285V286h2V285zM499 246V282h2V246zM519 273V325h2V273zM559 342V360h2V342zM572 329V354h2V329zM578 295V326h2V295zM598 299V312h2V299zM604 294V296h2V294zM611 273V290h2V273zM618 263V270h2V263zM637 270V315h2V270zM644 243V268h2V243zM657 219V254h2V219zM670 201V245h2V201zM677 191V198h2V191zM690 174V231h2V174zM710 156V221h2V156zM729 178V192h2V178zM756 248V249h2V248zM769 312V318h2V312zM795 374V381h2V374zM802 361V372h2V361zM808 346V358h2V346zM828 351V416h2V351zM848 348V352h2V348zM874 364V377h2V364zM894 372V377h2V372zM913 328V365h2V328zM959 470V491h2V470zM979 520V526h2V520zM1012 545V554h2V545zM1058 571V573h2V571zM1091 580V597h2V580zM1110 634V645h2V634zM1117 613V631h2V613zM1150 639V655h2V639zM1156 634V636h2V634zM1189 618V636h2V618zM1222 573V623h2V573zM1242 574V603h2V574zM1262 602V637h2V602zM1275 619V644h2V619zM1288 603V622h2V603zM1314 638V640h2V638zM1321 596V635h2V596zM1334 593V600h2V593zM1340 562V590h2V562zM1354 562V565h2V562zM1373 560V586h2V560zM1393 527V560h2V527zM1413 522V530h2V522zM1426 510V529h2V510zM1439 540V546h2V540zM1452 530V540h2V530zM1465 529V533h2V529zM1485 590V593h2V590zM1518 680V687h2V680zM1524 665V677h2V665zM1531 601V662h2V601zM1538 553V598h2V553zM1544 534V550h2V534zM1551 530V531h2V530zM1557 514V527h2V514zM1570 515V540h2V515zM1577 510V511h2V510zM1584 497V507h2V497zM1623 573V598h2V573zM1629 567V570h2V567zM1656 635V640h2V635zM1662 620V633h2V620zM1669 611V617h2V611zM1682 627V635h2V627zM1702 621V627h2V621zM1715 613V616h2V613zM1721 599V610h2V599zM1735 615V622h2V615zM1748 648V649h2V648zM1787 654V666h2V654zM1794 636V651h2V636zM1820 675V684h2V675zM1833 667V669h2V667zM1840 661V664h2V661zM1846 643V658h2V643zM1866 652V653h2V652zM1899 669V675h2V669zM1905 660V666h2V660zM1919 634V684h2V634zM1925 611V631h2V611zM1932 606V608h2V606zM1945 628V634h2V628zM1958 634V636h2V634zM1965 621V631h2V621zM1997 642V647h2V642zM2004 626V640h2V626zM2017 616V624h2V616zM2063 724V732h2V724zM2076 732V733h2V732zM2083 701V729h2V701zM2096 710V712h2V710zM2109 717V721h2V717zM2116 698V714h2V698zM2142 699V711h2V699zM2149 695V696h2V695zM2168 688V708h2V688zM2201 747V749h2V747zM2208 741V744h2V741zM2214 727V738h2V727zM2227 724V725h2V724zM2254 725V728h2V725zM2300 755V758h2V755zM2319 767V769h2V767zM2333 754V772h2V754zM2346 747V755h2V747zM2359 750V753h2V750zM2365 725V748h2V725zM2379 724V725h2V724zM2392 719V721h2V719z" fill="#089981"/>
<path d="M20 450V460h2V450zM26 463V475h2V463zM53 468V473h2V468zM59 476V483h2V476zM79 475V477h2V475zM105 459V479h2V459zM112 482V503h2V482zM118 506V522h2V506zM125 525V539h2V525zM145 531V559h2V531zM158 544V550h2V544zM217 483V488h2V483zM256 360V378h2V360zM263 382V403h2V382zM276 385V402h2V385zM283 405V408h2V405zM289 411V414h2V411zM296 417V440h2V417zM302 443V456h2V443zM315 419V429h2V419zM329 402V429h2V402zM355 387V405h2V387zM375 342V368h2V342zM381 371V374h2V371zM388 377V387h2V377zM394 390V399h2V390zM401 402V425h2V402zM407 428V431h2V428zM421 431V439h2V431zM427 442V464h2V442zM440 436V456h2V436zM480 306V357h2V306zM506 246V269h2V246zM513 273V326h2V273zM526 273V275h2V273zM532 278V306h2V278zM539 309V328h2V309zM545 331V349h2V331zM552 352V360h2V352zM565 343V354h2V343zM585 294V303h2V294zM591 306V312h2V306zM624 263V287h2V263zM631 289V316h2V289zM650 243V254h2V243zM664 219V245h2V219zM683 193V231h2V193zM696 174V209h2V174zM703 212V221h2V212zM723 158V192h2V158zM736 178V186h2V178zM742 189V240h2V189zM749 244V249h2V244zM762 249V318h2V249zM775 313V326h2V313zM782 328V330h2V328zM788 333V381h2V333zM815 346V413h2V346zM834 351V354h2V351zM854 348V352h2V348zM861 355V365h2V355zM867 368V377h2V368zM880 364V369h2V364zM887 373V377h2V373zM920 328V337h2V328zM933 342V371h2V342zM940 374V428h2V374zM946 431V486h2V431zM953 489V491h2V489zM966 470V491h2V470zM972 494V526h2V494zM986 520V528h2V520zM992 531V534h2V531zM1005 540V555h2V540zM1018 544V548h2V544zM1038 546V549h2V546zM1045 552V553h2V552zM1051 556V573h2V556zM1064 572V601h2V572zM1104 581V643h2V581zM1124 613V636h2V613zM1130 639V646h2V639zM1137 649V651h2V649zM1143 654V655h2V654zM1216 616V622h2V616zM1229 574V594h2V574zM1235 597V603h2V597zM1248 574V627h2V574zM1255 630V637h2V630zM1268 602V644h2V602zM1281 619V622h2V619zM1294 603V617h2V603zM1301 620V629h2V620zM1308 632V640h2V632zM1327 596V599h2V596zM1347 562V564h2V562zM1360 562V569h2V562zM1367 573V586h2V573zM1386 557V561h2V557zM1406 527V530h2V527zM1419 523V529h2V523zM1432 511V546h2V511zM1459 531V533h2V531zM1472 528V575h2V528zM1478 578V593h2V578zM1492 590V610h2V590zM1498 613V666h2V613zM1505 669V670h2V669zM1511 673V687h2V673zM1564 515V540h2V515zM1597 494V524h2V494zM1603 527V563h2V527zM1610 567V589h2V567zM1616 592V598h2V592zM1636 567V572h2V567zM1643 575V624h2V575zM1649 627V640h2V627zM1675 611V635h2V611zM1728 599V622h2V599zM1741 615V649h2V615zM1774 644V648h2V644zM1781 651V666h2V651zM1800 636V668h2V636zM1807 671V677h2V671zM1813 680V684h2V680zM1859 645V653h2V645zM1873 652V661h2V652zM1879 664V672h2V664zM1886 675V676h2V675zM1912 660V684h2V660zM1938 605V635h2V605zM1951 628V636h2V628zM1984 622V636h2V622zM1991 639V647h2V639zM2024 616V650h2V616zM2030 653V658h2V653zM2037 661V671h2V661zM2043 674V706h2V674zM2050 708V730h2V708zM2070 724V733h2V724zM2089 701V712h2V701zM2103 710V721h2V710zM2122 698V710h2V698zM2162 699V708h2V699zM2175 688V689h2V688zM2181 692V713h2V692zM2188 716V722h2V716zM2195 725V749h2V725zM2241 726V729h2V726zM2273 724V726h2V724zM2287 729V750h2V729zM2293 753V758h2V753zM2306 755V758h2V755zM2313 761V769h2V761zM2326 767V773h2V767zM2352 747V752h2V747z" fill="#f23645"/>
<path d="M-2 717H2718" stroke="#089981" stroke-width="2" stroke-dasharray="2 4" fill="none"/>
</g>
<g clip-path="url(#cr)">
<rect x="0" y="1015.8" width="2904" height="100.8" fill="rgba(126,87,194,0.1)"/>
<path d="M-1.8 1015.8H2904M-1.8 1116.6H2904" stroke="#787b86" stroke-width="2" stroke-dasharray="9.7 12.3" fill="none"/>
<path d="M-1.8 1066H2904" stroke="rgba(120,123,134,0.55)" stroke-width="2" stroke-dasharray="9.7 12.3" fill="none"/>
<clipPath id="c70"><rect x="0" y="977" width="2904" height="38.8"/></clipPath><clipPath id="c30"><rect x="0" y="1116.6" width="2904" height="32"/></clipPath>
<path d="M1.51 1054.24 L8.08 1050.63 L14.65 1037.87 L21.22 1049.43 L27.8 1058.57 L34.37 1058.33 L40.94 1056.65 L47.51 1052.31 L54.08 1058.57 L60.65 1066.75 L67.22 1057.85 L73.79 1058.33 L80.36 1062.66 L86.93 1065.55 L93.5 1055.44 L100.07 1045.82 L106.64 1065.07 L113.21 1084.32 L119.78 1095.16 L126.35 1106.47 L132.92 1098.77 L139.49 1094.43 L146.06 1110.8 L152.63 1095.16 L159.2 1099.97 L165.78 1099.97 L172.35 1101.65 L178.92 1100.69 L185.49 1100.69 L192.06 1068.2 L198.63 1065.07 L205.2 1050.63 L211.77 1039.8 L218.34 1047.02 L224.91 1043.41 L231.48 1027.76 L238.05 1000.09 L244.62 998.4 L251.19 993.59 L257.76 1010.92 L264.33 1030.17 L270.9 1022.95 L277.47 1036.19 L284.04 1040.52 L290.62 1044.61 L297.19 1060.98 L303.76 1069.88 L310.33 1048.94 L316.9 1056.16 L323.47 1043.89 L330.04 1060.26 L336.61 1059.05 L343.18 1053.52 L349.75 1041 L356.32 1051.83 L362.89 1030.17 L369.46 1027.76 L376.03 1043.89 L382.6 1047.5 L389.17 1054.24 L395.74 1059.77 L402.31 1073.01 L408.88 1074.7 L415.45 1073.98 L422.02 1079.03 L428.6 1090.34 L435.17 1072.29 L441.74 1083.6 L448.31 1079.51 L454.88 1068.68 L461.45 1065.07 L468.02 1047.02 L474.59 1020.54 L481.16 1045.82 L487.73 1027.28 L494.3 1026.56 L500.87 1018.14 L507.44 1028.97 L514.01 1049.43 L520.58 1037.39 L527.15 1039.8 L533.72 1048.22 L540.29 1056.65 L546.86 1065.07 L553.43 1068.68 L560.01 1061.46 L566.58 1067 L573.15 1056.16 L579.72 1046.54 L586.29 1051.83 L592.86 1054.72 L599.43 1049.43 L606 1047.5 L612.57 1040.52 L619.14 1036.91 L625.71 1048.22 L632.28 1063.39 L638.85 1046.54 L645.42 1038.11 L651.99 1044.61 L658.56 1033.06 L665.13 1045.09 L671.7 1033.3 L678.27 1030.17 L684.85 1048.7 L691.42 1033.06 L697.99 1047.5 L704.56 1051.83 L711.13 1034.26 L717.7 1034.98 L724.27 1048.7 L730.84 1044.13 L737.41 1048.22 L743.98 1067.48 L750.55 1070.61 L757.12 1068.68 L763.69 1090.34 L770.26 1087.45 L776.83 1092.03 L783.4 1093.23 L789.97 1106.47 L796.54 1101.89 L803.11 1095.16 L809.68 1089.62 L816.25 1107.91 L822.83 1108.87 L829.4 1080.23 L835.97 1081.92 L842.54 1081.2 L849.11 1078.31 L855.68 1080.23 L862.25 1085.05 L868.82 1089.62 L875.39 1081.92 L881.96 1085.53 L888.53 1087.21 L895.1 1083.12 L901.67 1083.12 L908.24 1080.23 L914.81 1058.33 L921.38 1064.59 L927.95 1066.27 L934.52 1083.12 L941.09 1104.78 L947.66 1120.43 L954.24 1121.63 L960.81 1107.67 L967.38 1113.69 L973.95 1122.35 L980.52 1117.3 L987.09 1120.43 L993.66 1121.63 L1000.23 1122.35 L1006.8 1126.93 L1013.37 1118.02 L1019.94 1119.22 L1026.51 1116.34 L1033.08 1115.13 L1039.65 1116.82 L1046.22 1119.22 L1052.79 1125.96 L1059.36 1122.35 L1065.93 1132.94 L1072.5 1128.37 L1079.08 1129.33 L1085.65 1125.96 L1092.22 1106.71 L1098.79 1107.67 L1105.36 1131.26 L1111.93 1119.22 L1118.5 1104.3 L1125.07 1113.93 L1131.64 1116.82 L1138.21 1119.22 L1144.78 1119.22 L1151.35 1104.78 L1157.92 1099.97 L1164.49 1101.17 L1171.06 1102.38 L1177.63 1103.58 L1184.2 1101.17 L1190.77 1081.92 L1197.34 1081.2 L1203.91 1081.2 L1210.48 1079.51 L1217.06 1086.73 L1223.63 1044.61 L1230.2 1061.94 L1236.77 1068.68 L1243.34 1049.43 L1249.91 1081.92 L1256.48 1086.01 L1263.05 1065.07 L1269.62 1084.32 L1276.19 1071.09 L1282.76 1073.49 L1289.33 1063.39 L1295.9 1072.29 L1302.47 1077.1 L1309.04 1081.44 L1315.61 1078.31 L1322.18 1057.13 L1328.75 1060.26 L1335.32 1055.92 L1341.89 1041.72 L1348.47 1045.09 L1355.04 1042.93 L1361.61 1049.43 L1368.18 1059.53 L1374.75 1045.82 L1381.32 1044.13 L1387.89 1048.22 L1394.46 1032.58 L1401.03 1032.58 L1407.6 1036.67 L1414.17 1031.86 L1420.74 1039.32 L1427.31 1028.97 L1433.88 1055.44 L1440.45 1051.83 L1447.02 1054.24 L1453.59 1047.02 L1460.16 1050.63 L1466.73 1047.02 L1473.31 1077.59 L1479.88 1086.73 L1486.45 1082.64 L1493.02 1093.95 L1499.59 1113.93 L1506.16 1115.13 L1512.73 1120.91 L1519.3 1113.21 L1525.87 1101.89 L1532.44 1065.07 L1539.01 1047.02 L1545.58 1041 L1552.15 1039.8 L1558.72 1033.78 L1565.29 1048.94 L1571.86 1039.32 L1578.43 1037.39 L1585 1033.06 L1591.57 1032.58 L1598.14 1051.83 L1604.71 1069.88 L1611.29 1079.99 L1617.86 1083.84 L1624.43 1069.88 L1631 1067 L1637.57 1071.09 L1644.14 1092.75 L1650.71 1097.08 L1657.28 1093.47 L1663.85 1085.53 L1670.42 1079.99 L1676.99 1090.82 L1683.56 1085.53 L1690.13 1086.73 L1696.7 1085.53 L1703.27 1080.71 L1709.84 1078.79 L1716.41 1074.7 L1722.98 1065.55 L1729.55 1081.2 L1736.12 1073.98 L1742.7 1092.75 L1749.27 1090.82 L1755.84 1088.66 L1762.41 1088.66 L1768.98 1087.21 L1775.55 1091.55 L1782.12 1101.17 L1788.69 1087.45 L1795.26 1073.98 L1801.83 1093.95 L1808.4 1098.28 L1814.97 1101.65 L1821.54 1093.95 L1828.11 1089.14 L1834.68 1085.53 L1841.25 1079.51 L1847.82 1065.07 L1854.39 1067 L1860.96 1075.18 L1867.54 1071.81 L1874.11 1080.71 L1880.68 1088.42 L1887.25 1091.55 L1893.82 1089.14 L1900.39 1079.51 L1906.96 1071.81 L1913.53 1092.75 L1920.1 1051.83 L1926.67 1039.32 L1933.24 1036.19 L1939.81 1059.53 L1946.38 1053.76 L1952.95 1061.46 L1959.52 1058.57 L1966.09 1050.15 L1972.66 1051.83 L1979.23 1052.55 L1985.8 1065.07 L1992.37 1073.01 L1998.94 1066.75 L2005.52 1056.65 L2012.09 1057.13 L2018.66 1047.74 L2025.23 1075.9 L2031.8 1080.71 L2038.37 1089.14 L2044.94 1107.19 L2051.51 1114.41 L2058.08 1117.54 L2064.65 1107.67 L2071.22 1112.73 L2077.79 1108.87 L2084.36 1083.6 L2090.93 1091.55 L2097.5 1087.21 L2104.07 1094.43 L2110.64 1088.66 L2117.21 1073.98 L2123.78 1082.64 L2130.36 1085.05 L2136.93 1083.6 L2143.5 1071.81 L2150.07 1067.96 L2156.64 1071.09 L2163.21 1080.71 L2169.78 1060.74 L2176.35 1063.87 L2182.92 1081.92 L2189.49 1087.93 L2196.06 1103.1 L2202.63 1098.28 L2209.2 1093.47 L2215.77 1080.23 L2222.34 1081.2 L2228.91 1077.59 L2235.48 1078.79 L2242.05 1084.81 L2248.62 1082.4 L2255.19 1075.9 L2261.76 1076.62 L2268.34 1075.18 L2274.91 1079.99 L2281.48 1080.23 L2288.05 1103.1 L2294.62 1109.6 L2301.19 1099.97 L2307.76 1105.99 L2314.33 1113.21 L2320.9 1106.47 L2327.47 1112.73 L2334.04 1082.4 L2340.61 1086.73 L2347.18 1073.98 L2353.75 1082.4 L2360.32 1075.18 L2366.89 1050.63 L2373.46 1053.76 L2380.03 1048.94 L2386.6 1050.15 L2393.18 1045.09 L2393.18 1015.8 L1.51 1015.8z" fill="rgba(76,175,80,0.16)" clip-path="url(#c70)"/>
<path d="M1.51 1054.24 L8.08 1050.63 L14.65 1037.87 L21.22 1049.43 L27.8 1058.57 L34.37 1058.33 L40.94 1056.65 L47.51 1052.31 L54.08 1058.57 L60.65 1066.75 L67.22 1057.85 L73.79 1058.33 L80.36 1062.66 L86.93 1065.55 L93.5 1055.44 L100.07 1045.82 L106.64 1065.07 L113.21 1084.32 L119.78 1095.16 L126.35 1106.47 L132.92 1098.77 L139.49 1094.43 L146.06 1110.8 L152.63 1095.16 L159.2 1099.97 L165.78 1099.97 L172.35 1101.65 L178.92 1100.69 L185.49 1100.69 L192.06 1068.2 L198.63 1065.07 L205.2 1050.63 L211.77 1039.8 L218.34 1047.02 L224.91 1043.41 L231.48 1027.76 L238.05 1000.09 L244.62 998.4 L251.19 993.59 L257.76 1010.92 L264.33 1030.17 L270.9 1022.95 L277.47 1036.19 L284.04 1040.52 L290.62 1044.61 L297.19 1060.98 L303.76 1069.88 L310.33 1048.94 L316.9 1056.16 L323.47 1043.89 L330.04 1060.26 L336.61 1059.05 L343.18 1053.52 L349.75 1041 L356.32 1051.83 L362.89 1030.17 L369.46 1027.76 L376.03 1043.89 L382.6 1047.5 L389.17 1054.24 L395.74 1059.77 L402.31 1073.01 L408.88 1074.7 L415.45 1073.98 L422.02 1079.03 L428.6 1090.34 L435.17 1072.29 L441.74 1083.6 L448.31 1079.51 L454.88 1068.68 L461.45 1065.07 L468.02 1047.02 L474.59 1020.54 L481.16 1045.82 L487.73 1027.28 L494.3 1026.56 L500.87 1018.14 L507.44 1028.97 L514.01 1049.43 L520.58 1037.39 L527.15 1039.8 L533.72 1048.22 L540.29 1056.65 L546.86 1065.07 L553.43 1068.68 L560.01 1061.46 L566.58 1067 L573.15 1056.16 L579.72 1046.54 L586.29 1051.83 L592.86 1054.72 L599.43 1049.43 L606 1047.5 L612.57 1040.52 L619.14 1036.91 L625.71 1048.22 L632.28 1063.39 L638.85 1046.54 L645.42 1038.11 L651.99 1044.61 L658.56 1033.06 L665.13 1045.09 L671.7 1033.3 L678.27 1030.17 L684.85 1048.7 L691.42 1033.06 L697.99 1047.5 L704.56 1051.83 L711.13 1034.26 L717.7 1034.98 L724.27 1048.7 L730.84 1044.13 L737.41 1048.22 L743.98 1067.48 L750.55 1070.61 L757.12 1068.68 L763.69 1090.34 L770.26 1087.45 L776.83 1092.03 L783.4 1093.23 L789.97 1106.47 L796.54 1101.89 L803.11 1095.16 L809.68 1089.62 L816.25 1107.91 L822.83 1108.87 L829.4 1080.23 L835.97 1081.92 L842.54 1081.2 L849.11 1078.31 L855.68 1080.23 L862.25 1085.05 L868.82 1089.62 L875.39 1081.92 L881.96 1085.53 L888.53 1087.21 L895.1 1083.12 L901.67 1083.12 L908.24 1080.23 L914.81 1058.33 L921.38 1064.59 L927.95 1066.27 L934.52 1083.12 L941.09 1104.78 L947.66 1120.43 L954.24 1121.63 L960.81 1107.67 L967.38 1113.69 L973.95 1122.35 L980.52 1117.3 L987.09 1120.43 L993.66 1121.63 L1000.23 1122.35 L1006.8 1126.93 L1013.37 1118.02 L1019.94 1119.22 L1026.51 1116.34 L1033.08 1115.13 L1039.65 1116.82 L1046.22 1119.22 L1052.79 1125.96 L1059.36 1122.35 L1065.93 1132.94 L1072.5 1128.37 L1079.08 1129.33 L1085.65 1125.96 L1092.22 1106.71 L1098.79 1107.67 L1105.36 1131.26 L1111.93 1119.22 L1118.5 1104.3 L1125.07 1113.93 L1131.64 1116.82 L1138.21 1119.22 L1144.78 1119.22 L1151.35 1104.78 L1157.92 1099.97 L1164.49 1101.17 L1171.06 1102.38 L1177.63 1103.58 L1184.2 1101.17 L1190.77 1081.92 L1197.34 1081.2 L1203.91 1081.2 L1210.48 1079.51 L1217.06 1086.73 L1223.63 1044.61 L1230.2 1061.94 L1236.77 1068.68 L1243.34 1049.43 L1249.91 1081.92 L1256.48 1086.01 L1263.05 1065.07 L1269.62 1084.32 L1276.19 1071.09 L1282.76 1073.49 L1289.33 1063.39 L1295.9 1072.29 L1302.47 1077.1 L1309.04 1081.44 L1315.61 1078.31 L1322.18 1057.13 L1328.75 1060.26 L1335.32 1055.92 L1341.89 1041.72 L1348.47 1045.09 L1355.04 1042.93 L1361.61 1049.43 L1368.18 1059.53 L1374.75 1045.82 L1381.32 1044.13 L1387.89 1048.22 L1394.46 1032.58 L1401.03 1032.58 L1407.6 1036.67 L1414.17 1031.86 L1420.74 1039.32 L1427.31 1028.97 L1433.88 1055.44 L1440.45 1051.83 L1447.02 1054.24 L1453.59 1047.02 L1460.16 1050.63 L1466.73 1047.02 L1473.31 1077.59 L1479.88 1086.73 L1486.45 1082.64 L1493.02 1093.95 L1499.59 1113.93 L1506.16 1115.13 L1512.73 1120.91 L1519.3 1113.21 L1525.87 1101.89 L1532.44 1065.07 L1539.01 1047.02 L1545.58 1041 L1552.15 1039.8 L1558.72 1033.78 L1565.29 1048.94 L1571.86 1039.32 L1578.43 1037.39 L1585 1033.06 L1591.57 1032.58 L1598.14 1051.83 L1604.71 1069.88 L1611.29 1079.99 L1617.86 1083.84 L1624.43 1069.88 L1631 1067 L1637.57 1071.09 L1644.14 1092.75 L1650.71 1097.08 L1657.28 1093.47 L1663.85 1085.53 L1670.42 1079.99 L1676.99 1090.82 L1683.56 1085.53 L1690.13 1086.73 L1696.7 1085.53 L1703.27 1080.71 L1709.84 1078.79 L1716.41 1074.7 L1722.98 1065.55 L1729.55 1081.2 L1736.12 1073.98 L1742.7 1092.75 L1749.27 1090.82 L1755.84 1088.66 L1762.41 1088.66 L1768.98 1087.21 L1775.55 1091.55 L1782.12 1101.17 L1788.69 1087.45 L1795.26 1073.98 L1801.83 1093.95 L1808.4 1098.28 L1814.97 1101.65 L1821.54 1093.95 L1828.11 1089.14 L1834.68 1085.53 L1841.25 1079.51 L1847.82 1065.07 L1854.39 1067 L1860.96 1075.18 L1867.54 1071.81 L1874.11 1080.71 L1880.68 1088.42 L1887.25 1091.55 L1893.82 1089.14 L1900.39 1079.51 L1906.96 1071.81 L1913.53 1092.75 L1920.1 1051.83 L1926.67 1039.32 L1933.24 1036.19 L1939.81 1059.53 L1946.38 1053.76 L1952.95 1061.46 L1959.52 1058.57 L1966.09 1050.15 L1972.66 1051.83 L1979.23 1052.55 L1985.8 1065.07 L1992.37 1073.01 L1998.94 1066.75 L2005.52 1056.65 L2012.09 1057.13 L2018.66 1047.74 L2025.23 1075.9 L2031.8 1080.71 L2038.37 1089.14 L2044.94 1107.19 L2051.51 1114.41 L2058.08 1117.54 L2064.65 1107.67 L2071.22 1112.73 L2077.79 1108.87 L2084.36 1083.6 L2090.93 1091.55 L2097.5 1087.21 L2104.07 1094.43 L2110.64 1088.66 L2117.21 1073.98 L2123.78 1082.64 L2130.36 1085.05 L2136.93 1083.6 L2143.5 1071.81 L2150.07 1067.96 L2156.64 1071.09 L2163.21 1080.71 L2169.78 1060.74 L2176.35 1063.87 L2182.92 1081.92 L2189.49 1087.93 L2196.06 1103.1 L2202.63 1098.28 L2209.2 1093.47 L2215.77 1080.23 L2222.34 1081.2 L2228.91 1077.59 L2235.48 1078.79 L2242.05 1084.81 L2248.62 1082.4 L2255.19 1075.9 L2261.76 1076.62 L2268.34 1075.18 L2274.91 1079.99 L2281.48 1080.23 L2288.05 1103.1 L2294.62 1109.6 L2301.19 1099.97 L2307.76 1105.99 L2314.33 1113.21 L2320.9 1106.47 L2327.47 1112.73 L2334.04 1082.4 L2340.61 1086.73 L2347.18 1073.98 L2353.75 1082.4 L2360.32 1075.18 L2366.89 1050.63 L2373.46 1053.76 L2380.03 1048.94 L2386.6 1050.15 L2393.18 1045.09 L2393.18 1116.6 L1.51 1116.6z" fill="rgba(255,82,82,0.13)" clip-path="url(#c30)"/>
<path d="M1.51 1054.24 L8.08 1050.63 L14.65 1037.87 L21.22 1049.43 L27.8 1058.57 L34.37 1058.33 L40.94 1056.65 L47.51 1052.31 L54.08 1058.57 L60.65 1066.75 L67.22 1057.85 L73.79 1058.33 L80.36 1062.66 L86.93 1065.55 L93.5 1055.44 L100.07 1045.82 L106.64 1065.07 L113.21 1084.32 L119.78 1095.16 L126.35 1106.47 L132.92 1098.77 L139.49 1094.43 L146.06 1110.8 L152.63 1095.16 L159.2 1099.97 L165.78 1099.97 L172.35 1101.65 L178.92 1100.69 L185.49 1100.69 L192.06 1068.2 L198.63 1065.07 L205.2 1050.63 L211.77 1039.8 L218.34 1047.02 L224.91 1043.41 L231.48 1027.76 L238.05 1000.09 L244.62 998.4 L251.19 993.59 L257.76 1010.92 L264.33 1030.17 L270.9 1022.95 L277.47 1036.19 L284.04 1040.52 L290.62 1044.61 L297.19 1060.98 L303.76 1069.88 L310.33 1048.94 L316.9 1056.16 L323.47 1043.89 L330.04 1060.26 L336.61 1059.05 L343.18 1053.52 L349.75 1041 L356.32 1051.83 L362.89 1030.17 L369.46 1027.76 L376.03 1043.89 L382.6 1047.5 L389.17 1054.24 L395.74 1059.77 L402.31 1073.01 L408.88 1074.7 L415.45 1073.98 L422.02 1079.03 L428.6 1090.34 L435.17 1072.29 L441.74 1083.6 L448.31 1079.51 L454.88 1068.68 L461.45 1065.07 L468.02 1047.02 L474.59 1020.54 L481.16 1045.82 L487.73 1027.28 L494.3 1026.56 L500.87 1018.14 L507.44 1028.97 L514.01 1049.43 L520.58 1037.39 L527.15 1039.8 L533.72 1048.22 L540.29 1056.65 L546.86 1065.07 L553.43 1068.68 L560.01 1061.46 L566.58 1067 L573.15 1056.16 L579.72 1046.54 L586.29 1051.83 L592.86 1054.72 L599.43 1049.43 L606 1047.5 L612.57 1040.52 L619.14 1036.91 L625.71 1048.22 L632.28 1063.39 L638.85 1046.54 L645.42 1038.11 L651.99 1044.61 L658.56 1033.06 L665.13 1045.09 L671.7 1033.3 L678.27 1030.17 L684.85 1048.7 L691.42 1033.06 L697.99 1047.5 L704.56 1051.83 L711.13 1034.26 L717.7 1034.98 L724.27 1048.7 L730.84 1044.13 L737.41 1048.22 L743.98 1067.48 L750.55 1070.61 L757.12 1068.68 L763.69 1090.34 L770.26 1087.45 L776.83 1092.03 L783.4 1093.23 L789.97 1106.47 L796.54 1101.89 L803.11 1095.16 L809.68 1089.62 L816.25 1107.91 L822.83 1108.87 L829.4 1080.23 L835.97 1081.92 L842.54 1081.2 L849.11 1078.31 L855.68 1080.23 L862.25 1085.05 L868.82 1089.62 L875.39 1081.92 L881.96 1085.53 L888.53 1087.21 L895.1 1083.12 L901.67 1083.12 L908.24 1080.23 L914.81 1058.33 L921.38 1064.59 L927.95 1066.27 L934.52 1083.12 L941.09 1104.78 L947.66 1120.43 L954.24 1121.63 L960.81 1107.67 L967.38 1113.69 L973.95 1122.35 L980.52 1117.3 L987.09 1120.43 L993.66 1121.63 L1000.23 1122.35 L1006.8 1126.93 L1013.37 1118.02 L1019.94 1119.22 L1026.51 1116.34 L1033.08 1115.13 L1039.65 1116.82 L1046.22 1119.22 L1052.79 1125.96 L1059.36 1122.35 L1065.93 1132.94 L1072.5 1128.37 L1079.08 1129.33 L1085.65 1125.96 L1092.22 1106.71 L1098.79 1107.67 L1105.36 1131.26 L1111.93 1119.22 L1118.5 1104.3 L1125.07 1113.93 L1131.64 1116.82 L1138.21 1119.22 L1144.78 1119.22 L1151.35 1104.78 L1157.92 1099.97 L1164.49 1101.17 L1171.06 1102.38 L1177.63 1103.58 L1184.2 1101.17 L1190.77 1081.92 L1197.34 1081.2 L1203.91 1081.2 L1210.48 1079.51 L1217.06 1086.73 L1223.63 1044.61 L1230.2 1061.94 L1236.77 1068.68 L1243.34 1049.43 L1249.91 1081.92 L1256.48 1086.01 L1263.05 1065.07 L1269.62 1084.32 L1276.19 1071.09 L1282.76 1073.49 L1289.33 1063.39 L1295.9 1072.29 L1302.47 1077.1 L1309.04 1081.44 L1315.61 1078.31 L1322.18 1057.13 L1328.75 1060.26 L1335.32 1055.92 L1341.89 1041.72 L1348.47 1045.09 L1355.04 1042.93 L1361.61 1049.43 L1368.18 1059.53 L1374.75 1045.82 L1381.32 1044.13 L1387.89 1048.22 L1394.46 1032.58 L1401.03 1032.58 L1407.6 1036.67 L1414.17 1031.86 L1420.74 1039.32 L1427.31 1028.97 L1433.88 1055.44 L1440.45 1051.83 L1447.02 1054.24 L1453.59 1047.02 L1460.16 1050.63 L1466.73 1047.02 L1473.31 1077.59 L1479.88 1086.73 L1486.45 1082.64 L1493.02 1093.95 L1499.59 1113.93 L1506.16 1115.13 L1512.73 1120.91 L1519.3 1113.21 L1525.87 1101.89 L1532.44 1065.07 L1539.01 1047.02 L1545.58 1041 L1552.15 1039.8 L1558.72 1033.78 L1565.29 1048.94 L1571.86 1039.32 L1578.43 1037.39 L1585 1033.06 L1591.57 1032.58 L1598.14 1051.83 L1604.71 1069.88 L1611.29 1079.99 L1617.86 1083.84 L1624.43 1069.88 L1631 1067 L1637.57 1071.09 L1644.14 1092.75 L1650.71 1097.08 L1657.28 1093.47 L1663.85 1085.53 L1670.42 1079.99 L1676.99 1090.82 L1683.56 1085.53 L1690.13 1086.73 L1696.7 1085.53 L1703.27 1080.71 L1709.84 1078.79 L1716.41 1074.7 L1722.98 1065.55 L1729.55 1081.2 L1736.12 1073.98 L1742.7 1092.75 L1749.27 1090.82 L1755.84 1088.66 L1762.41 1088.66 L1768.98 1087.21 L1775.55 1091.55 L1782.12 1101.17 L1788.69 1087.45 L1795.26 1073.98 L1801.83 1093.95 L1808.4 1098.28 L1814.97 1101.65 L1821.54 1093.95 L1828.11 1089.14 L1834.68 1085.53 L1841.25 1079.51 L1847.82 1065.07 L1854.39 1067 L1860.96 1075.18 L1867.54 1071.81 L1874.11 1080.71 L1880.68 1088.42 L1887.25 1091.55 L1893.82 1089.14 L1900.39 1079.51 L1906.96 1071.81 L1913.53 1092.75 L1920.1 1051.83 L1926.67 1039.32 L1933.24 1036.19 L1939.81 1059.53 L1946.38 1053.76 L1952.95 1061.46 L1959.52 1058.57 L1966.09 1050.15 L1972.66 1051.83 L1979.23 1052.55 L1985.8 1065.07 L1992.37 1073.01 L1998.94 1066.75 L2005.52 1056.65 L2012.09 1057.13 L2018.66 1047.74 L2025.23 1075.9 L2031.8 1080.71 L2038.37 1089.14 L2044.94 1107.19 L2051.51 1114.41 L2058.08 1117.54 L2064.65 1107.67 L2071.22 1112.73 L2077.79 1108.87 L2084.36 1083.6 L2090.93 1091.55 L2097.5 1087.21 L2104.07 1094.43 L2110.64 1088.66 L2117.21 1073.98 L2123.78 1082.64 L2130.36 1085.05 L2136.93 1083.6 L2143.5 1071.81 L2150.07 1067.96 L2156.64 1071.09 L2163.21 1080.71 L2169.78 1060.74 L2176.35 1063.87 L2182.92 1081.92 L2189.49 1087.93 L2196.06 1103.1 L2202.63 1098.28 L2209.2 1093.47 L2215.77 1080.23 L2222.34 1081.2 L2228.91 1077.59 L2235.48 1078.79 L2242.05 1084.81 L2248.62 1082.4 L2255.19 1075.9 L2261.76 1076.62 L2268.34 1075.18 L2274.91 1079.99 L2281.48 1080.23 L2288.05 1103.1 L2294.62 1109.6 L2301.19 1099.97 L2307.76 1105.99 L2314.33 1113.21 L2320.9 1106.47 L2327.47 1112.73 L2334.04 1082.4 L2340.61 1086.73 L2347.18 1073.98 L2353.75 1082.4 L2360.32 1075.18 L2366.89 1050.63 L2373.46 1053.76 L2380.03 1048.94 L2386.6 1050.15 L2393.18 1045.09" fill="none" stroke="#7e57c2" stroke-width="2" stroke-linejoin="round" stroke-linecap="round" />
<path d="M0 1044.13 L14.44 1043.41 L31.29 1048.22 L48.14 1051.35 L62.58 1054.72 L79.43 1055.44 L99.88 1055.92 L117.93 1062.66 L132.38 1069.88 L146.82 1077.1 L163.66 1083.6 L178.11 1089.62 L190.14 1093.95 L198.56 1094.43 L209.39 1089.86 L221.43 1081.92 L232.26 1075.18 L240.68 1065.07 L250.31 1054.24 L262.34 1044.61 L274.38 1034.26 L284.01 1028.97 L291.23 1027.76 L303.26 1030.17 L312.89 1030.89 L323.72 1032.58 L334.55 1039.8 L346.58 1047.02 L361.02 1049.43 L375.47 1048.94 L385.09 1048.94 L394.72 1048.22 L409.16 1051.35 L423.6 1055.44 L438.04 1060.26 L450.08 1065.07 L459.7 1068.68 L466.93 1069.4 L481.37 1066.27 L490.99 1062.66 L503.03 1055.44 L512.66 1051.83 L522.28 1047.02 L531.91 1043.41 L541.54 1041.72 L553.57 1041.72 L565.61 1045.82 L577.64 1047.5 L589.67 1051.83 L599.3 1054.24 L608.93 1054.24 L620 1053.52 L631.29 1054.24 L643.32 1051.35 L657.76 1047.5 L672.2 1045.09 L684.24 1042.69 L696.27 1041.72 L708.31 1042.69 L717.93 1041.48 L727.56 1040.28 L739.6 1041.48 L754.04 1045.82 L768.48 1053.52 L782.92 1061.46 L799.77 1073.49 L811.8 1079.99 L821.43 1087.21 L831.06 1089.86 L847.9 1092.51 L864.75 1091.55 L876.79 1090.34 L888.82 1087.93 L903.26 1086.25 L912.89 1081.92 L922.52 1080.23 L932.14 1079.03 L941.77 1081.92 L953.8 1086.25 L965.84 1089.14 L980.28 1094.67 L994.72 1100.45 L1006.75 1108.39 L1016.38 1113.21 L1023.6 1117.3 L1030.82 1118.74 L1045.26 1118.74 L1057.3 1120.67 L1069.33 1122.11 L1081.37 1122.83 L1093.4 1121.63 L1103.03 1120.43 L1117.47 1120.43 L1129.5 1120.19 L1141.54 1119.95 L1153.57 1118.02 L1165.61 1113.93 L1177.64 1111.04 L1187.27 1109.6 L1199.3 1104.78 L1208.93 1101.17 L1220 1097.08 L1228.88 1090.34 L1243.32 1082.64 L1257.76 1078.31 L1272.2 1074.22 L1286.65 1071.57 L1305.9 1069.88 L1317.93 1072.29 L1327.56 1071.57 L1335.99 1071.81 L1349.22 1066.27 L1363.66 1062.18 L1375.7 1059.53 L1387.73 1056.65 L1399.77 1050.63 L1411.8 1045.82 L1428.65 1041.48 L1445.5 1043.41 L1455.12 1043.41 L1464.75 1042.69 L1476.79 1047.02 L1488.82 1054.24 L1500.85 1062.66 L1512.89 1073.49 L1522.52 1079.99 L1532.14 1083.6 L1541.77 1082.64 L1553.8 1081.92 L1565.84 1079.03 L1577.87 1072.77 L1589.91 1063.87 L1604.35 1053.52 L1613.98 1050.63 L1621.2 1049.91 L1630.82 1051.83 L1640.45 1055.44 L1652.48 1063.39 L1664.52 1069.4 L1676.55 1075.9 L1688.59 1081.2 L1700.62 1083.6 L1712.66 1083.12 L1729.5 1083.6 L1741.54 1081.92 L1753.57 1081.92 L1765.61 1082.64 L1782.45 1084.32 L1794.49 1083.84 L1804.11 1085.53 L1813.74 1088.66 L1820 1089.62 L1828.88 1091.06 L1843.32 1089.14 L1857.76 1086.01 L1872.2 1083.12 L1889.05 1083.84 L1901.09 1081.44 L1915.53 1079.51 L1925.16 1074.7 L1934.78 1071.57 L1949.22 1069.4 L1963.66 1067 L1975.7 1061.94 L1987.73 1058.57 L1999.77 1057.85 L2006.99 1054.96 L2019.02 1056.65 L2031.06 1060.98 L2040.68 1065.07 L2052.72 1071.09 L2062.34 1078.31 L2074.38 1085.05 L2088.82 1089.14 L2100.85 1093.95 L2110.48 1097.56 L2122.52 1097.56 L2132.14 1096.84 L2141.77 1093.47 L2151.4 1088.66 L2163.43 1084.32 L2173.06 1080.23 L2185.09 1077.83 L2197.13 1079.03 L2209.16 1080.71 L2221.2 1080.71 L2233.23 1080.23 L2245.26 1081.92 L2257.3 1082.64 L2269.33 1083.84 L2281.37 1083.6 L2293.4 1084.32 L2303.03 1085.05 L2312.66 1087.93 L2322.28 1091.55 L2331.91 1093.23 L2343.94 1093.47 L2360.79 1093.95 L2375.23 1089.86 L2384.86 1083.12 L2394.49 1077.59" fill="none" stroke="#fdd835" stroke-width="2" stroke-linejoin="round" stroke-linecap="round" />
</g>
<g clip-path="url(#cd)">
<path d="M196 1262V1266H201V1262zM203 1250V1266H207V1250zM209 1237V1266H214V1237zM216 1232V1266H220V1232zM222 1229V1266H227V1229zM229 1221V1266H234V1221zM236 1197V1266H240V1197zM242 1183V1266H247V1183zM249 1175V1266H253V1175zM360 1256V1266H365V1256zM367 1245V1266H372V1245zM472 1236V1266H477V1236zM479 1231V1266H483V1231zM485 1210V1266H490V1210zM492 1198V1266H496V1198zM498 1184V1266H503V1184zM610 1261V1266H615V1261zM617 1255V1266H621V1255zM643 1256V1266H648V1256zM650 1255V1266H654V1255zM656 1245V1266H661V1245zM669 1240V1266H674V1240zM676 1234V1266H680V1234zM689 1237V1266H694V1237zM709 1246V1266H713V1246zM715 1242V1266H720V1242zM873 1261V1266H877V1261zM879 1259V1266H884V1259zM893 1257V1266H897V1257zM899 1254V1266H904V1254zM906 1251V1266H910V1251zM912 1238V1266H917V1238zM919 1233V1266H923V1233zM925 1232V1266H930V1232zM1044 1261V1266H1048V1261zM1057 1259V1266H1061V1259zM1077 1264V1266H1081V1264zM1083 1262V1266H1088V1262zM1090 1252V1266H1094V1252zM1096 1246V1266H1101V1246zM1116 1256V1266H1121V1256zM1149 1257V1266H1153V1257zM1155 1250V1266H1160V1250zM1162 1245V1266H1167V1245zM1169 1242V1266H1173V1242zM1175 1240V1266H1180V1240zM1182 1239V1266H1186V1239zM1188 1231V1266H1193V1231zM1195 1227V1266H1199V1227zM1201 1225V1266H1206V1225zM1208 1224V1266H1213V1224zM1221 1215V1266H1226V1215zM1241 1216V1266H1245V1216zM1261 1243V1266H1265V1243zM1274 1255V1266H1278V1255zM1287 1252V1266H1291V1252zM1320 1256V1266H1324V1256zM1326 1251V1266H1331V1251zM1333 1246V1266H1337V1246zM1339 1234V1266H1344V1234zM1346 1230V1266H1351V1230zM1353 1228V1266H1357V1228zM1372 1239V1266H1377V1239zM1379 1239V1266H1383V1239zM1392 1235V1266H1397V1235zM1399 1233V1266H1403V1233zM1425 1240V1266H1429V1240zM1543 1244V1266H1548V1244zM1550 1226V1266H1554V1226zM1556 1212V1266H1561V1212zM1569 1210V1266H1574V1210zM1576 1208V1266H1581V1208zM1583 1207V1266H1587V1207zM1721 1259V1266H1725V1259zM1734 1259V1266H1738V1259zM1793 1264V1266H1797V1264zM1839 1261V1266H1843V1261zM1845 1252V1266H1850V1252zM1852 1247V1266H1856V1247zM1865 1247V1266H1870V1247zM1898 1261V1266H1902V1261zM1904 1258V1266H1909V1258zM1918 1251V1266H1922V1251zM1924 1237V1266H1929V1237zM1931 1228V1266H1935V1228zM1964 1244V1266H1968V1244zM2003 1263V1266H2008V1263zM2010 1263V1266H2014V1263zM2016 1259V1266H2021V1259zM2115 1264V1266H2119V1264zM2121 1261V1266H2126V1261zM2128 1260V1266H2132V1260zM2134 1258V1266H2139V1258zM2141 1253V1266H2146V1253zM2148 1248V1266H2152V1248zM2154 1246V1266H2159V1246zM2167 1245V1266H2172V1245zM2174 1243V1266H2178V1243zM2226 1264V1266H2231V1264zM2233 1262V1266H2238V1262zM2246 1261V1266H2251V1261zM2253 1259V1266H2257V1259zM2259 1258V1266H2264V1258zM2266 1257V1266H2270V1257zM2345 1262V1266H2349V1262zM2351 1260V1266H2356V1260zM2358 1258V1266H2362V1258zM2364 1248V1266H2369V1248zM2371 1244V1266H2376V1244zM2378 1241V1266H2382V1241zM2384 1240V1266H2389V1240zM2391 1239V1266H2395V1239z" fill="#26a69a"/>
<path d="M255 1180V1266H260V1180zM262 1196V1266H266V1196zM268 1204V1266H273V1204zM275 1218V1266H280V1218zM282 1233V1266H286V1233zM288 1246V1266H293V1246zM295 1264V1266H299V1264zM374 1248V1266H378V1248zM380 1254V1266H385V1254zM387 1262V1266H391V1262zM505 1188V1266H510V1188zM512 1211V1266H516V1211zM518 1213V1266H523V1213zM525 1220V1266H529V1220zM531 1236V1266H536V1236zM538 1256V1266H542V1256zM623 1259V1266H628V1259zM663 1249V1266H667V1249zM682 1245V1266H687V1245zM696 1246V1266H700V1246zM702 1257V1266H707V1257zM722 1253V1266H726V1253zM728 1257V1266H733V1257zM735 1264V1266H740V1264zM886 1260V1266H891V1260zM932 1241V1266H937V1241zM939 1263V1266H943V1263zM1050 1262V1266H1055V1262zM1103 1259V1266H1107V1259zM1109 1262V1266H1114V1262zM1123 1259V1266H1127V1259zM1129 1262V1266H1134V1262zM1136 1263V1266H1140V1263zM1142 1264V1266H1147V1264zM1215 1227V1266H1219V1227zM1228 1216V1266H1232V1216zM1234 1221V1266H1239V1221zM1247 1231V1266H1252V1231zM1254 1245V1266H1259V1245zM1267 1255V1266H1272V1255zM1280 1257V1266H1285V1257zM1293 1254V1266H1298V1254zM1300 1258V1266H1305V1258zM1307 1264V1266H1311V1264zM1359 1231V1266H1364V1231zM1366 1240V1266H1370V1240zM1385 1242V1266H1390V1242zM1405 1236V1266H1410V1236zM1412 1236V1266H1416V1236zM1418 1241V1266H1423V1241zM1431 1253V1266H1436V1253zM1438 1259V1266H1443V1259zM1563 1214V1266H1567V1214zM1589 1209V1266H1594V1209zM1596 1222V1266H1600V1222zM1602 1245V1266H1607V1245zM1727 1261V1266H1732V1261zM1858 1248V1266H1863V1248zM1872 1250V1266H1876V1250zM1878 1256V1266H1883V1256zM1885 1261V1266H1889V1261zM1891 1263V1266H1896V1263zM1911 1263V1266H1916V1263zM1937 1234V1266H1942V1234zM1944 1235V1266H1948V1235zM1950 1241V1266H1955V1241zM1957 1245V1266H1962V1245zM1970 1245V1266H1975V1245zM1977 1248V1266H1981V1248zM1983 1254V1266H1988V1254zM1990 1263V1266H1994V1263zM2161 1249V1266H2165V1249zM2180 1250V1266H2185V1250zM2187 1258V1266H2192V1258zM2240 1262V1266H2244V1262zM2272 1257V1266H2277V1257zM2279 1257V1266H2284V1257z" fill="#b2dfdb"/>
<path d="M-1 1264V1275H4V1264zM19 1264V1267H23V1264zM25 1264V1272H30V1264zM32 1264V1276H36V1264zM38 1264V1277H43V1264zM52 1264V1278H56V1264zM58 1264V1281H63V1264zM78 1264V1280H82V1264zM84 1264V1281H89V1264zM104 1264V1275H109V1264zM111 1264V1283H115V1264zM117 1264V1293H122V1264zM124 1264V1304H128V1264zM130 1264V1306H135V1264zM144 1264V1310H148V1264zM301 1264V1282H306V1264zM314 1264V1284H319V1264zM328 1264V1283H332V1264zM334 1264V1286H339V1264zM354 1264V1273H358V1264zM393 1264V1273H398V1264zM400 1264V1287H404V1264zM406 1264V1297H411V1264zM413 1264V1302H418V1264zM420 1264V1307H424V1264zM426 1264V1316H431V1264zM439 1264V1311H444V1264zM544 1264V1277H549V1264zM551 1264V1293H556V1264zM558 1264V1297H562V1264zM564 1264V1303H569V1264zM630 1264V1273H634V1264zM742 1264V1287H746V1264zM748 1264V1303H753V1264zM755 1264V1312H759V1264zM761 1264V1336H766V1264zM768 1264V1347H772V1264zM774 1264V1354H779V1264zM781 1264V1357H786V1264zM788 1264V1368H792V1264zM814 1264V1349H818V1264zM866 1264V1267H871V1264zM945 1264V1294H950V1264zM952 1264V1312H956V1264zM958 1264V1313H963V1264zM965 1264V1317H969V1264zM971 1264V1326H976V1264zM1063 1264V1266H1068V1264zM1070 1264V1267H1075V1264zM1313 1264V1267H1318V1264zM1445 1264V1267H1449V1264zM1451 1264V1267H1456V1264zM1458 1264V1270H1462V1264zM1464 1264V1270H1469V1264zM1471 1264V1285H1475V1264zM1477 1264V1299H1482V1264zM1484 1264V1305H1489V1264zM1491 1264V1313H1495V1264zM1497 1264V1333H1502V1264zM1504 1264V1343H1508V1264zM1510 1264V1350H1515V1264zM1609 1264V1267H1613V1264zM1615 1264V1285H1620V1264zM1622 1264V1288H1627V1264zM1635 1264V1288H1640V1264zM1642 1264V1302H1646V1264zM1648 1264V1314H1653V1264zM1655 1264V1317H1659V1264zM1675 1264V1304H1679V1264zM1740 1264V1267H1745V1264zM1747 1264V1272H1751V1264zM1753 1264V1273H1758V1264zM1773 1264V1272H1778V1264zM1780 1264V1276H1784V1264zM1799 1264V1270H1804V1264zM1806 1264V1275H1811V1264zM1813 1264V1278H1817V1264zM1996 1264V1267H2001V1264zM2023 1264V1269H2027V1264zM2029 1264V1276H2034V1264zM2036 1264V1285H2040V1264zM2042 1264V1299H2047V1264zM2049 1264V1313H2054V1264zM2056 1264V1320H2060V1264zM2194 1264V1271H2198V1264zM2200 1264V1276H2205V1264zM2207 1264V1277H2211V1264zM2292 1264V1272H2297V1264zM2299 1264V1274H2303V1264zM2305 1264V1276H2310V1264zM2312 1264V1279H2316V1264zM2325 1264V1280H2330V1264z" fill="#ff5252"/>
<path d="M6 1264V1274H10V1264zM12 1264V1267H17V1264zM45 1264V1276H50V1264zM65 1264V1280H69V1264zM71 1264V1279H76V1264zM91 1264V1277H96V1264zM98 1264V1272H102V1264zM137 1264V1304H142V1264zM150 1264V1306H155V1264zM157 1264V1304H161V1264zM163 1264V1300H168V1264zM170 1264V1297H174V1264zM176 1264V1292H181V1264zM183 1264V1287H188V1264zM190 1264V1273H194V1264zM308 1264V1281H312V1264zM321 1264V1278H326V1264zM341 1264V1283H345V1264zM347 1264V1273H352V1264zM433 1264V1310H437V1264zM446 1264V1308H450V1264zM452 1264V1299H457V1264zM459 1264V1289H464V1264zM466 1264V1272H470V1264zM571 1264V1298H575V1264zM577 1264V1285H582V1264zM584 1264V1279H588V1264zM590 1264V1279H595V1264zM597 1264V1274H602V1264zM604 1264V1270H608V1264zM636 1264V1267H641V1264zM794 1264V1367H799V1264zM801 1264V1358H805V1264zM807 1264V1343H812V1264zM820 1264V1348H825V1264zM827 1264V1324H831V1264zM833 1264V1306H838V1264zM840 1264V1291H845V1264zM847 1264V1278H851V1264zM853 1264V1270H858V1264zM860 1264V1266H864V1264zM978 1264V1324H983V1264zM985 1264V1322H989V1264zM991 1264V1318H996V1264zM998 1264V1312H1002V1264zM1004 1264V1309H1009V1264zM1011 1264V1300H1015V1264zM1017 1264V1292H1022V1264zM1024 1264V1282H1029V1264zM1031 1264V1274H1035V1264zM1037 1264V1266H1042V1264zM1517 1264V1347H1521V1264zM1523 1264V1336H1528V1264zM1530 1264V1307H1535V1264zM1537 1264V1273H1541V1264zM1629 1264V1287H1633V1264zM1661 1264V1312H1666V1264zM1668 1264V1304H1673V1264zM1681 1264V1299H1686V1264zM1688 1264V1294H1692V1264zM1694 1264V1289H1699V1264zM1701 1264V1282H1705V1264zM1707 1264V1276H1712V1264zM1714 1264V1269H1719V1264zM1760 1264V1273H1765V1264zM1767 1264V1272H1771V1264zM1786 1264V1273H1791V1264zM1819 1264V1276H1824V1264zM1826 1264V1272H1830V1264zM1832 1264V1267H1837V1264zM2062 1264V1318H2067V1264zM2069 1264V1317H2073V1264zM2075 1264V1312H2080V1264zM2082 1264V1298H2086V1264zM2088 1264V1290H2093V1264zM2095 1264V1282H2100V1264zM2102 1264V1280H2106V1264zM2108 1264V1275H2113V1264zM2213 1264V1273H2218V1264zM2220 1264V1269H2224V1264zM2318 1264V1279H2323V1264zM2332 1264V1273H2336V1264zM2338 1264V1269H2343V1264z" fill="#ffcdd2"/>
<path d="M-1.8 1265H2904" stroke="rgba(120,123,134,0.65)" stroke-width="2" stroke-dasharray="9.7 12.3" fill="none"/>
</g>
<rect x="0" y="975" width="3047" height="2" fill="#e0e3eb"/>
<rect x="0" y="1148.5" width="3047" height="2" fill="#e0e3eb"/>
<text y="39.8" font-size="23.5" fill="#131722" stroke="#131722" stroke-width="0.4" x="14.2" letter-spacing="0.607">Fartcoin / US Dollar · 4h · Coinbase</text>
<text y="39.8" font-size="23.5" fill="#131722" stroke="#131722" stroke-width="0.4" x="421.7" letter-spacing="1.169">O0.7965</text>
<text y="39.8" font-size="23.5" fill="#131722" stroke="#131722" stroke-width="0.4" x="533.6" letter-spacing="0.687">H0.8071</text>
<text y="39.8" font-size="23.5" fill="#131722" stroke="#131722" stroke-width="0.4" x="639.5" letter-spacing="1.104">L0.7920</text>
<text y="39.8" font-size="23.5" fill="#131722" stroke="#131722" stroke-width="0.4" x="745.4" letter-spacing="1.520">C0.8045</text>
<text y="39.8" font-size="23.5" fill="#131722" stroke="#131722" stroke-width="0.4" x="858.1" letter-spacing="1.039">+0.0082 (+1.03%)</text>
<text y="73.9" font-size="23.5" fill="#131722" stroke="#131722" stroke-width="0.4" x="15.2" letter-spacing="0.226">Vol · FARTCOIN (14)</text>
<text y="73.9" font-size="23.5" fill="#26a69a" stroke="#26a69a" stroke-width="0.4" x="254.4" letter-spacing="0.785">868.59 K</text>
<text y="73.9" font-size="23.5" fill="#2962ff" stroke="#2962ff" stroke-width="0.4" x="369.6" letter-spacing="0.507">3.93 M</text>
<text y="107.7" font-size="23.5" fill="#131722" stroke="#131722" stroke-width="0.4" x="14.2" letter-spacing="0.786">EMA (200, close)</text>
<text y="107.7" font-size="23.5" fill="#ff9800" stroke="#ff9800" stroke-width="0.4" x="222.8" letter-spacing="1.479">0.9239</text>
<text y="1016.3" font-size="23.5" fill="#131722" stroke="#131722" stroke-width="0.4" x="14" letter-spacing="0.351">RSI (14, close)</text>
<text y="1016.3" font-size="23.5" fill="#7e57c2" stroke="#7e57c2" stroke-width="0.4" x="190.6" letter-spacing="0.616">58.31</text>
<text y="1016.3" font-size="23.5" fill="#fdd835" stroke="#fdd835" stroke-width="0.4" x="266" letter-spacing="1.191">45.43</text>
<text y="1191.4" font-size="23.5" fill="#131722" stroke="#131722" stroke-width="0.4" x="14" letter-spacing="0.695">MACD (12, 26, close)</text>
<text y="1191.4" font-size="23.5" fill="#26a69a" stroke="#26a69a" stroke-width="0.4" x="266.7" letter-spacing="1.379">0.0093</text>
<g clip-path="url(#ct)">
<text y="1426.2" font-size="23.5" fill="#131722" stroke="#131722" stroke-width="0.4" x="86.5">7</text>
<text y="1426.2" font-size="23.5" fill="#131722" stroke="#131722" stroke-width="0.4" x="196.5" letter-spacing="1.930">10</text>
<text y="1426.2" font-size="23.5" fill="#131722" stroke="#131722" stroke-width="0.4" x="315.5" letter-spacing="1.930">13</text>
<text y="1426.2" font-size="23.5" fill="#131722" stroke="#131722" stroke-width="0.4" x="433.5" letter-spacing="1.930">16</text>
<text y="1426.2" font-size="23.5" fill="#131722" stroke="#131722" stroke-width="0.4" x="551.5" letter-spacing="2.930">19</text>
<text y="1426.2" font-size="23.5" fill="#131722" stroke="#131722" stroke-width="0.4" x="669.5" letter-spacing="2.930">22</text>
<text y="1426.2" font-size="23.5" fill="#131722" stroke="#131722" stroke-width="0.4" x="788.5" letter-spacing="1.930">25</text>
<text y="1426.2" font-size="23.5" fill="#131722" stroke="#131722" stroke-width="0.4" x="906.5" letter-spacing="1.930">28</text>
<text y="1426.2" font-size="23.5" fill="#131722" stroke="#131722" stroke-width="0.4" font-weight="bold" x="1056.25" letter-spacing="0.587">Aug</text>
<text y="1426.2" font-size="23.5" fill="#131722" stroke="#131722" stroke-width="0.4" x="1190.5">4</text>
<text y="1426.2" font-size="23.5" fill="#131722" stroke="#131722" stroke-width="0.4" x="1308.5">7</text>
<text y="1426.2" font-size="23.5" fill="#131722" stroke="#131722" stroke-width="0.4" x="1419.5" letter-spacing="1.930">10</text>
<text y="1426.2" font-size="23.5" fill="#131722" stroke="#131722" stroke-width="0.4" x="1537.5" letter-spacing="1.930">13</text>
<text y="1426.2" font-size="23.5" fill="#131722" stroke="#131722" stroke-width="0.4" x="1655.5" letter-spacing="1.930">16</text>
<text y="1426.2" font-size="23.5" fill="#131722" stroke="#131722" stroke-width="0.4" x="1773.5" letter-spacing="2.930">19</text>
<text y="1426.2" font-size="23.5" fill="#131722" stroke="#131722" stroke-width="0.4" x="1892.5" letter-spacing="2.930">22</text>
<text y="1426.2" font-size="23.5" fill="#131722" stroke="#131722" stroke-width="0.4" x="2010.5" letter-spacing="1.930">25</text>
<text y="1426.2" font-size="23.5" fill="#131722" stroke="#131722" stroke-width="0.4" x="2128.5" letter-spacing="1.930">28</text>
<text y="1426.2" font-size="23.5" fill="#131722" stroke="#131722" stroke-width="0.4" font-weight="bold" x="2278.25" letter-spacing="1.378">Sep</text>
<text y="1426.2" font-size="23.5" fill="#131722" stroke="#131722" stroke-width="0.4" x="2412.5">4</text>
<text y="1426.2" font-size="23.5" fill="#131722" stroke="#131722" stroke-width="0.4" x="2531.5">7</text>
<text y="1426.2" font-size="23.5" fill="#131722" stroke="#131722" stroke-width="0.4" x="2641.5" letter-spacing="1.930">10</text>
<text y="1426.2" font-size="23.5" fill="#131722" stroke="#131722" stroke-width="0.4" x="2759.5" letter-spacing="1.930">13</text>
<text y="1426.2" font-size="23.5" fill="#131722" stroke="#131722" stroke-width="0.4" x="2877.5" letter-spacing="1.930">16</text>
</g>
<g clip-path="url(#cv)">
<text y="923.56" font-size="23.5" fill="#131722" stroke="#131722" stroke-width="0.4" x="2924" letter-spacing="1.539">0.5000</text>
<text y="858.48" font-size="23.5" fill="#131722" stroke="#131722" stroke-width="0.4" x="2924" letter-spacing="1.539">0.6000</text>
<text y="793.4" font-size="23.5" fill="#131722" stroke="#131722" stroke-width="0.4" x="2924" letter-spacing="1.539">0.7000</text>
<text y="728.32" font-size="23.5" fill="#131722" stroke="#131722" stroke-width="0.4" x="2924" letter-spacing="1.539">0.8000</text>
<text y="663.24" font-size="23.5" fill="#131722" stroke="#131722" stroke-width="0.4" x="2924" letter-spacing="1.539">0.9000</text>
<text y="598.16" font-size="23.5" fill="#131722" stroke="#131722" stroke-width="0.4" x="2923" letter-spacing="1.739">1.0000</text>
<text y="533.08" font-size="23.5" fill="#131722" stroke="#131722" stroke-width="0.4" x="2923" letter-spacing="1.739">1.1000</text>
<text y="468" font-size="23.5" fill="#131722" stroke="#131722" stroke-width="0.4" x="2923" letter-spacing="1.739">1.2000</text>
<text y="402.92" font-size="23.5" fill="#131722" stroke="#131722" stroke-width="0.4" x="2923" letter-spacing="1.739">1.3000</text>
<text y="337.84" font-size="23.5" fill="#131722" stroke="#131722" stroke-width="0.4" x="2923" letter-spacing="1.739">1.4000</text>
<text y="272.76" font-size="23.5" fill="#131722" stroke="#131722" stroke-width="0.4" x="2923" letter-spacing="1.739">1.5000</text>
<text y="207.68" font-size="23.5" fill="#131722" stroke="#131722" stroke-width="0.4" x="2923" letter-spacing="1.739">1.6000</text>
<text y="142.6" font-size="23.5" fill="#131722" stroke="#131722" stroke-width="0.4" x="2923" letter-spacing="1.739">1.7000</text>
<text y="77.52" font-size="23.5" fill="#131722" stroke="#131722" stroke-width="0.4" x="2923" letter-spacing="1.739">1.8000</text>
</g>
<text y="1012" font-size="23.5" fill="#131722" stroke="#131722" stroke-width="0.4" x="2923" letter-spacing="1.691">75.00</text>
<text y="1138.5" font-size="23.5" fill="#131722" stroke="#131722" stroke-width="0.4" x="2923" letter-spacing="1.691">25.00</text>
<text y="1274" font-size="23.5" fill="#131722" stroke="#131722" stroke-width="0.4" x="2924" letter-spacing="1.539">0.0000</text>
<rect x="2905" y="1" width="142" height="67" fill="#fff"/>
<rect x="2912.3" y="7.7" width="127.8" height="51.9" rx="7.5" fill="#fff" stroke="#eff0f1" stroke-width="1.5"/>
<text y="41.2" font-size="22" fill="#131722" stroke="#131722" stroke-width="0.4" x="2930" letter-spacing="1.969">USD</text>
<path d="M2906 622H3012a4 4 0 0 1 4 4V652a4 4 0 0 1 -4 4H2906z" fill="#ff9800"/>
<text y="647.5" font-size="23.5" fill="#000" stroke="#000" stroke-width="0.4" x="2923.5" letter-spacing="1.839">0.9239</text>
<path d="M2906 700H3034a4 4 0 0 1 4 4V757.5a4 4 0 0 1 -4 4H2906z" fill="#089981"/>
<text y="725" font-size="23.5" fill="#fff" stroke="#fff" stroke-width="0.4" x="2923.5" letter-spacing="1.639">0.8045</text>
<text y="753" font-size="23.5" fill="rgba(255,255,255,0.72)" stroke="rgba(255,255,255,0.72)" stroke-width="0.4" x="2923.5" letter-spacing="1.313">02:39:01</text>
<path d="M2904 700V734H2722a4 4 0 0 1 -4 -4V704a4 4 0 0 1 4 -4z" fill="#089981"/>
<text y="725" font-size="23.5" fill="#fff" stroke="#fff" stroke-width="0.4" x="2726.4" letter-spacing="0.147">FARTCOINUSD</text>
<path d="M2906 926H3006a4 4 0 0 1 4 4V956a4 4 0 0 1 -4 4H2906z" fill="#2962ff"/>
<text y="951.7" font-size="23.5" fill="#fff" stroke="#fff" stroke-width="0.4" x="2923.5" letter-spacing="0.747">3.93 M</text>
<g clip-path="url(#cv)">
<path d="M2906 960H3030a4 4 0 0 1 4 4V990a4 4 0 0 1 -4 4H2906z" fill="#26a69a"/>
<text y="985.7" font-size="23.5" fill="#fff" stroke="#fff" stroke-width="0.4" x="2922.5" letter-spacing="0.799">868.59 K</text>
</g>
<path d="M2906 1028H2996a4 4 0 0 1 4 4V1058a4 4 0 0 1 -4 4H2906z" fill="#7e57c2"/>
<text y="1053.7" font-size="23.5" fill="#fff" stroke="#fff" stroke-width="0.4" x="2923.8" letter-spacing="1.316">58.31</text>
<path d="M2906 1062.7H2996a4 4 0 0 1 4 4V1092a4 4 0 0 1 -4 4H2906z" fill="#fdd835"/>
<text y="1088.1" font-size="23.5" fill="#000" stroke="#000" stroke-width="0.4" x="2923.8" letter-spacing="1.566">45.43</text>
<path d="M2906 1222H3012a4 4 0 0 1 4 4V1252a4 4 0 0 1 -4 4H2906z" fill="#26a69a"/>
<text y="1247.7" font-size="23.5" fill="#fff" stroke="#fff" stroke-width="0.4" x="2923.3" letter-spacing="1.639">0.0093</text>
<rect x="0" y="0" width="3049" height="0.9" fill="#f4f4f4"/>
<rect x="3047.2" y="0" width="1.8" height="1441" fill="#f4f4f4"/>
</svg></body></html>
